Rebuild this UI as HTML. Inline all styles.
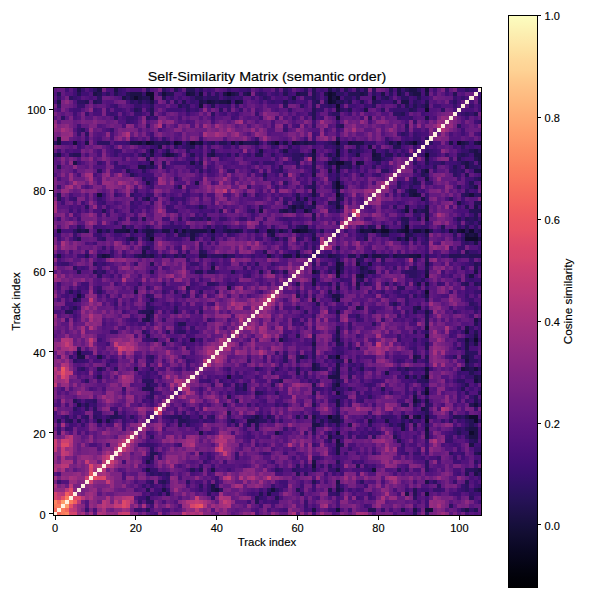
<!DOCTYPE html>
<html><head><meta charset="utf-8"><title>Self-Similarity Matrix</title>
<style>
html,body{margin:0;padding:0;background:#fff;}
body{width:600px;height:600px;position:relative;overflow:hidden;font-family:"Liberation Sans",sans-serif;color:#000;}
.t{position:absolute;white-space:nowrap;line-height:1;-webkit-text-stroke:0.15px #000;}
.tk{position:absolute;background:#000;}
</style></head><body>
<svg style="position:absolute;left:53.00px;top:87.50px" width="428.60" height="428.10" viewBox="0 0 106 106" preserveAspectRatio="none" shape-rendering="crispEdges">
<g transform="translate(0,0.5)" stroke-width="1.02" fill="none">
<path stroke="#100b2d" d="M103 85h1M92 82h1M104 82h1M68 81h1M103 81h2M92 75h1M92 71h1M70 66h1M104 62h1M92 50h1M70 45h1M24 37h1M102 37h3M39 35h1M60 35h1M79 35h1M81 35h2M87 35h1M92 35h1M101 35h1M103 35h1M87 34h1M70 26h1M70 24h1M70 23h1M70 18h2M92 16h1M23 13h1M30 13h1M34 13h1M55 13h1M70 13h1M89 13h1M100 13h1M92 5h1M70 4h1M68 3h1M20 2h1M24 2h1M68 2h1M70 2h1M23 1h2M43 1h1M68 1h1"/>
<path stroke="#160f3b" d="M70 104h1M92 104h2M92 100h1M40 99h1M54 99h1M79 94h1M64 93h1M70 87h1M70 85h1M92 84h1M87 81h1M90 81h1M92 81h1M104 78h1M89 77h1M70 75h1M92 74h1M70 73h1M104 72h1M43 71h1M92 69h1M101 69h1M104 69h1M102 67h1M6 65h1M34 62h1M102 62h1M92 61h1M102 60h1M92 59h1M70 52h1M6 51h1M70 46h1M76 46h1M92 46h1M64 45h1M70 44h1M70 43h1M75 43h1M12 41h1M60 41h1M77 41h1M90 41h1M87 37h1M102 36h1M104 36h1M1 35h1M18 35h1M20 35h1M30 35h1M32 35h1M53 35h1M59 35h1M61 35h2M76 35h1M86 35h1M89 35h2M98 35h1M100 35h1M92 32h1M62 30h1M87 30h1M59 29h1M70 29h1M64 28h1M11 26h1M89 26h1M103 26h1M92 20h1M70 19h1M24 18h1M68 18h1M75 18h1M28 16h1M70 16h1M79 16h1M24 15h1M64 15h1M70 15h1M1 13h1M5 13h1M21 13h1M24 13h1M31 13h1M36 13h1M44 13h1M46 13h1M59 13h1M73 13h1M85 13h1M105 13h1M1 12h1M70 7h1M70 5h1M36 4h1M38 3h1M43 3h1M45 3h1M69 3h1M79 2h1M27 1h1M33 1h1M36 1h1M69 1h1M92 0h1"/>
<path stroke="#1d1147" d="M64 104h1M89 104h1M102 104h1M53 100h1M87 100h1M27 99h1M39 99h1M70 99h1M105 99h1M39 98h1M70 97h1M92 97h1M104 95h1M23 94h1M39 94h1M70 94h1M105 94h1M23 92h1M64 92h1M70 90h1M105 90h1M70 89h1M70 88h1M103 88h1M68 86h1M92 86h1M103 86h2M36 85h1M55 85h1M92 85h1M104 85h1M86 84h1M103 84h2M64 83h2M86 83h1M11 82h1M13 82h1M48 82h2M69 82h2M78 82h1M82 82h1M50 81h1M64 81h1M70 81h1M89 81h1M102 81h1M91 79h1M6 78h1M70 78h1M70 77h1M92 77h1M89 76h1M68 71h3M87 71h1M104 71h1M70 70h1M82 70h1M92 70h1M20 69h1M64 69h1M70 69h1M102 69h1M64 68h1M70 68h1M6 66h2M11 66h1M61 66h1M89 66h1M102 66h1M102 64h1M64 63h1M102 63h1M104 63h1M56 62h1M70 62h1M104 61h1M70 60h1M102 59h1M23 57h1M104 57h1M23 56h1M24 55h1M70 55h1M92 55h1M75 54h1M90 54h1M5 52h1M64 52h1M69 51h2M92 51h1M20 50h1M43 49h1M70 49h1M64 48h1M75 48h1M90 48h1M92 48h1M64 47h1M75 46h1M103 46h1M78 45h1M92 45h1M104 45h1M39 44h1M76 44h1M71 43h1M78 43h1M92 43h1M1 41h1M13 41h1M22 41h1M24 41h1M36 41h2M42 41h1M53 41h1M57 41h2M68 41h1M79 41h2M84 41h1M88 41h2M22 40h1M104 38h1M19 37h1M34 37h1M64 37h1M85 37h1M105 37h1M23 36h1M34 36h1M54 36h1M87 36h1M103 36h1M6 35h1M8 35h1M11 35h1M15 35h3M23 35h2M27 35h2M34 35h4M43 35h1M45 35h1M50 35h1M54 35h1M56 35h1M77 35h2M80 35h1M85 35h1M62 34h1M81 34h1M92 31h1M51 30h1M57 30h1M59 30h1M89 30h1M92 30h1M61 29h1M87 29h1M92 29h1M104 29h1M70 28h1M100 28h1M23 27h1M60 27h1M62 27h1M70 27h1M91 27h1M64 26h1M88 26h1M90 26h1M64 25h1M70 25h1M88 25h2M71 24h1M104 24h1M23 23h1M35 23h1M92 22h1M64 21h1M68 20h1M70 20h1M104 20h2M21 19h2M102 19h1M5 18h1M34 18h1M69 18h1M76 18h1M102 18h1M64 17h1M79 17h2M92 17h1M105 17h1M1 16h1M24 16h1M29 16h1M39 16h1M64 16h1M75 16h1M80 16h1M104 16h2M51 15h1M57 15h1M79 15h1M104 15h1M26 14h1M78 14h1M8 13h1M19 13h2M28 13h1M35 13h1M50 13h1M54 13h1M57 13h1M60 13h1M62 13h1M74 13h3M83 13h1M88 13h1M98 13h1M101 13h1M104 13h1M92 7h1M77 5h1M92 4h1M1 3h1M24 3h1M36 3h1M39 3h1M41 3h2M46 3h1M86 3h2M17 2h1M19 2h1M21 2h1M59 2h1M69 2h1M10 1h1M19 1h3M34 1h1M42 1h1M44 1h1M48 1h1M60 1h1M67 1h1M76 1h1M81 1h1M85 1h1M89 1h2M92 1h1M6 0h1M11 0h1M15 0h1M68 0h1M85 0h1M88 0h2"/>
<path stroke="#251255" d="M23 104h1M78 104h2M86 104h1M104 104h1M50 102h1M23 101h1M50 101h1M55 101h1M28 100h1M51 100h1M89 100h1M23 99h1M60 99h1M68 99h1M89 99h1M104 99h1M70 98h1M27 97h1M64 97h1M102 97h1M60 95h1M102 95h1M34 94h1M36 94h1M64 94h1M104 94h1M75 93h1M70 92h1M24 91h1M24 90h2M104 90h1M71 88h1M85 87h1M104 87h1M84 86h1M100 85h1M64 84h1M102 84h1M31 83h1M48 83h1M50 83h1M70 83h1M73 83h1M89 83h1M92 83h1M103 83h1M1 82h1M4 82h1M6 82h1M31 82h2M44 82h1M50 82h1M64 82h1M66 82h1M68 82h1M88 82h1M103 82h1M14 81h2M31 81h1M53 81h1M60 81h1M62 81h1M69 81h1M86 81h1M99 81h2M15 80h1M43 80h1M92 80h1M92 79h1M8 78h1M64 78h1M89 78h1M92 78h1M103 78h1M5 77h1M90 77h1M104 77h1M43 76h1M104 76h1M50 75h1M64 75h1M105 75h1M22 74h3M47 74h1M69 74h1M81 74h1M101 74h1M23 73h1M47 73h1M64 73h1M69 73h1M102 73h1M56 72h1M70 72h1M92 72h1M105 72h1M11 71h1M89 71h1M91 71h1M105 71h1M60 70h1M103 70h1M11 69h1M60 69h1M65 69h1M76 69h1M87 69h1M103 69h1M102 68h1M73 67h1M89 67h1M68 66h1M90 66h1M92 66h1M101 66h1M102 65h1M92 64h1M70 63h1M92 63h1M25 62h1M29 62h1M23 61h1M60 61h1M70 61h1M104 60h1M70 59h1M31 58h2M92 58h1M104 58h1M22 57h1M92 57h1M92 56h1M3 55h2M22 55h2M30 55h1M89 55h1M5 54h1M60 54h1M89 54h1M65 53h1M84 53h1M24 52h1M60 51h1M4 50h1M68 50h1M33 49h1M75 49h1M60 48h1M102 48h1M104 48h1M76 47h1M6 45h1M10 45h1M24 45h1M35 45h2M44 45h1M51 45h1M54 45h1M57 45h1M65 45h1M76 45h1M79 45h1M71 44h1M77 44h1M89 44h1M92 44h1M104 44h1M24 43h1M104 43h1M70 42h1M75 42h1M92 42h1M8 41h1M11 41h1M21 41h1M23 41h1M27 41h1M30 41h1M32 41h1M69 41h1M73 41h2M76 41h1M81 41h2M85 41h3M92 41h1M98 41h3M103 41h3M36 40h1M52 40h1M60 40h1M102 40h1M23 39h1M70 39h1M6 37h1M23 37h1M39 37h1M55 37h1M77 37h1M89 37h1M24 36h1M31 36h2M64 36h1M81 36h2M88 36h1M92 36h1M7 35h1M13 35h1M22 35h1M33 35h1M42 35h1M44 35h1M46 35h1M63 35h1M66 35h1M83 35h1M91 35h1M93 35h1M102 35h1M105 35h1M17 34h1M61 34h1M78 34h1M96 34h1M102 34h1M87 33h1M105 33h1M22 32h1M38 32h1M64 32h1M86 32h2M90 32h1M100 32h1M102 32h1M104 32h1M64 31h1M104 31h1M12 30h1M56 30h1M63 30h1M91 30h1M103 30h3M36 29h1M58 29h1M60 29h1M64 29h1M102 29h1M61 28h1M68 28h1M104 28h2M1 27h1M71 27h1M1 26h1M60 26h1M102 26h1M31 24h1M64 24h1M69 24h1M64 23h1M69 23h1M89 23h1M103 23h1M70 22h1M89 22h1M105 22h1M19 21h1M52 21h1M91 21h1M102 21h1M18 20h1M64 20h1M91 20h1M1 19h1M24 19h1M64 19h1M73 19h1M99 19h1M36 18h1M64 18h1M72 18h2M92 18h1M101 18h1M105 18h1M23 17h1M69 17h1M100 17h1M104 17h1M5 16h2M22 16h1M27 16h1M34 16h1M38 16h1M50 16h2M61 16h1M68 16h1M82 16h2M101 16h1M28 15h1M39 15h1M73 15h1M103 15h1M34 14h1M70 14h1M75 14h1M84 14h2M22 13h1M25 13h3M33 13h1M39 13h1M41 13h2M47 13h3M61 13h1M63 13h2M69 13h1M87 13h1M102 13h1M70 12h1M71 9h1M64 7h1M24 6h1M64 6h1M86 6h1M104 6h1M20 5h1M24 5h1M64 5h1M73 5h1M88 5h1M31 4h1M39 4h1M87 4h1M89 4h1M8 3h1M10 3h1M21 3h1M32 3h1M37 3h1M40 3h1M57 3h1M65 3h1M70 3h2M73 3h1M76 3h1M79 3h1M84 3h1M92 3h1M22 2h2M27 2h1M35 2h2M64 2h1M75 2h1M82 2h1M90 2h1M1 1h1M6 1h1M11 1h1M15 1h1M18 1h1M28 1h2M45 1h1M47 1h1M57 1h1M61 1h2M64 1h1M73 1h3M77 1h1M88 1h1M99 1h1M30 0h1M33 0h2M64 0h1M70 0h1M72 0h1M75 0h1M77 0h1M83 0h1M87 0h1"/>
<path stroke="#2d1161" d="M89 105h1M92 105h1M101 104h1M98 103h1M23 102h2M89 101h1M103 101h1M26 100h1M38 100h1M61 100h1M70 100h1M41 99h1M53 99h1M55 99h1M71 99h1M102 99h1M36 98h1M95 98h1M102 98h1M24 97h1M26 97h1M33 97h1M76 97h1M94 97h1M24 95h1M26 95h1M28 95h1M62 95h1M105 95h1M55 94h1M59 94h1M85 94h1M92 94h1M102 94h2M60 93h1M68 93h1M92 93h1M92 92h1M104 92h1M36 90h1M98 90h1M24 89h1M68 87h1M103 87h1M24 86h1M79 86h1M102 86h1M64 85h1M68 85h1M50 84h1M100 84h1M33 83h1M45 83h1M66 83h1M78 83h1M83 83h1M85 83h1M3 82h1M33 82h1M51 82h2M54 82h1M71 82h1M86 82h1M98 82h1M102 82h1M105 82h1M3 81h1M8 81h1M10 81h1M16 81h1M19 81h1M29 81h2M33 81h1M36 81h1M39 81h1M49 81h1M51 81h1M101 81h1M70 80h1M5 79h1M8 79h1M10 79h1M42 78h1M86 78h2M105 78h1M10 77h1M45 77h1M24 76h1M78 76h1M24 75h1M51 75h1M55 75h1M89 75h1M91 75h1M102 75h1M45 74h1M73 74h1M45 73h1M54 73h1M8 72h1M22 72h3M90 72h2M100 72h2M73 71h1M69 70h1M7 69h1M15 69h1M24 69h1M50 69h1M55 69h1M73 69h1M85 69h1M105 69h1M65 68h1M5 67h1M57 67h1M60 67h1M70 67h2M92 67h1M103 67h2M24 66h1M57 66h1M60 66h1M62 66h1M64 66h1M69 66h1M99 66h1M103 66h1M64 65h1M103 65h2M6 64h1M64 64h1M75 64h1M100 64h1M27 63h1M71 63h1M64 62h1M89 62h1M103 62h1M64 61h1M22 60h1M28 60h1M31 60h2M89 60h1M92 60h1M79 58h1M24 56h1M75 56h1M21 55h1M36 55h1M62 55h1M23 54h2M30 54h1M76 54h1M104 54h1M23 53h1M103 53h1M6 52h1M69 52h1M92 52h1M23 51h1M32 51h1M89 51h1M6 50h1M11 50h1M30 50h1M36 50h1M85 49h2M38 48h2M68 48h1M70 48h1M77 48h1M82 48h1M101 48h1M105 48h1M75 47h1M91 47h1M11 46h1M88 46h2M12 45h1M38 45h2M68 45h1M71 45h1M77 45h1M87 45h3M5 44h1M101 44h1M10 43h1M39 43h1M50 43h1M64 43h1M105 43h1M76 42h1M81 42h1M89 42h1M20 41h1M39 41h3M43 41h2M62 41h1M66 41h1M70 41h1M101 41h2M37 40h1M22 39h1M64 39h1M102 38h1M12 37h1M18 37h1M20 37h1M57 37h1M60 37h1M86 37h1M92 37h1M101 37h1M35 36h1M39 36h1M53 36h1M77 36h1M99 36h1M5 35h1M25 35h1M38 35h1M57 35h1M64 35h1M75 35h1M84 35h1M88 35h1M96 35h1M99 35h1M104 35h1M6 34h1M23 34h1M38 34h1M42 34h1M60 34h1M76 34h1M79 34h1M86 34h1M100 34h1M104 34h1M86 33h1M103 33h1M31 32h1M34 32h1M36 32h1M103 32h1M41 30h1M49 30h1M58 30h1M70 30h1M86 30h1M90 30h1M8 29h1M51 29h1M63 29h1M71 29h1M84 29h1M57 28h1M60 28h1M69 28h1M22 27h1M29 27h1M98 27h1M19 26h1M47 26h1M71 26h1M86 26h1M101 26h1M104 26h2M87 25h1M102 25h1M63 24h1M85 24h1M88 24h1M100 24h1M103 24h1M57 23h1M85 23h1M90 23h1M22 22h1M104 22h1M70 21h1M76 21h1M92 21h1M99 21h1M11 20h1M22 20h1M36 20h1M56 20h1M81 20h2M89 20h1M99 20h1M101 20h1M23 19h1M27 19h1M56 19h1M68 19h1M71 19h2M75 19h1M79 19h1M94 19h1M103 19h2M27 18h1M60 18h1M80 18h1M89 18h1M96 18h1M103 18h1M59 17h2M70 17h1M81 17h1M0 16h1M4 16h1M30 16h1M43 16h1M45 16h1M54 16h1M59 16h2M63 16h1M85 16h1M87 16h1M100 16h1M102 16h1M33 15h1M75 15h1M82 15h1M92 15h1M105 15h1M30 14h1M33 14h1M58 14h1M101 14h1M0 13h1M11 13h3M38 13h1M45 13h1M53 13h1M68 13h1M84 13h1M90 13h1M93 13h1M92 12h1M8 11h1M86 11h1M7 10h1M70 9h1M87 9h1M100 9h1M2 7h1M15 7h1M23 7h1M78 7h1M39 6h1M69 6h2M84 6h2M102 6h1M21 5h1M33 5h1M41 5h1M71 5h1M81 5h1M89 5h1M96 5h1M1 4h1M24 4h1M33 4h1M57 4h1M61 4h1M64 4h1M68 4h1M79 4h1M85 4h1M91 4h1M6 3h2M11 3h1M19 3h1M23 3h1M30 3h1M64 3h1M67 3h1M80 3h1M89 3h1M99 3h1M105 3h1M4 2h1M11 2h1M18 2h1M38 2h3M43 2h1M52 2h1M72 2h2M81 2h1M86 2h2M13 1h1M38 1h1M40 1h1M51 1h1M70 1h2M79 1h1M83 1h1M86 1h1M10 0h1M23 0h1M27 0h1M36 0h1M57 0h1M62 0h1M79 0h1M90 0h1M102 0h1"/>
<path stroke="#38106c" d="M8 104h1M20 104h2M81 104h1M103 104h1M62 103h1M21 102h1M62 102h1M39 101h1M51 101h1M24 100h1M68 100h2M78 100h1M103 100h1M28 99h1M36 99h1M38 99h1M94 99h2M101 99h1M22 98h1M24 98h1M27 98h1M38 98h1M40 98h1M54 98h1M101 98h1M105 98h1M1 97h1M23 97h1M28 97h1M40 97h1M99 97h1M28 96h1M25 95h1M27 95h1M24 94h2M56 94h1M60 94h1M68 94h2M78 94h1M87 94h1M36 93h1M62 93h1M66 93h1M70 93h1M77 93h1M24 92h1M37 92h1M23 91h1M38 91h1M45 91h1M64 91h2M95 91h1M99 91h1M45 90h1M52 90h1M72 90h1M79 90h1M87 90h1M89 90h2M101 90h1M73 89h1M104 89h2M23 88h2M31 88h1M64 88h1M86 88h1M92 87h1M97 87h2M69 86h3M73 86h1M75 86h1M77 86h1M98 86h1M1 85h1M56 85h1M62 85h1M73 85h1M78 85h1M80 85h1M84 85h1M99 85h1M101 85h2M1 84h1M3 84h1M57 84h1M89 84h1M99 84h1M101 84h1M7 83h1M68 83h1M102 83h1M104 83h1M8 82h1M14 82h1M17 82h1M29 82h1M34 82h2M37 82h1M39 82h1M43 82h1M56 82h1M79 82h1M90 82h1M96 82h1M100 82h1M5 81h1M7 81h1M11 81h1M13 81h1M17 81h1M28 81h1M32 81h1M38 81h1M43 81h1M48 81h1M54 81h1M65 81h1M67 81h1M77 81h1M79 81h1M81 81h3M93 81h1M10 80h2M32 80h1M64 80h1M91 80h1M98 80h1M70 79h1M104 79h1M7 78h1M10 78h1M48 78h1M55 78h1M57 78h1M93 78h1M6 77h1M8 77h2M24 77h1M64 77h1M69 77h1M76 77h1M102 77h1M23 76h1M71 76h2M92 76h1M103 76h1M45 75h1M71 75h1M75 75h1M83 75h1M17 74h1M46 74h1M64 74h2M70 74h2M24 73h2M39 73h1M42 73h1M78 73h1M91 73h1M101 73h1M38 72h1M41 72h1M55 72h1M63 72h1M65 72h1M69 72h1M71 72h1M23 71h1M46 71h1M62 71h1M102 71h2M23 70h1M54 70h1M62 70h1M73 70h1M86 70h1M100 70h1M104 70h1M6 69h1M12 69h1M43 69h1M66 69h2M86 69h1M88 69h2M91 69h1M13 68h1M23 68h1M74 68h1M76 68h1M103 68h1M6 67h2M14 67h1M24 67h1M33 67h1M48 67h1M64 67h1M85 67h1M4 66h1M23 66h1M32 66h1M7 65h2M55 65h1M57 65h1M70 65h2M89 65h1M33 64h1M70 64h1M73 64h1M89 64h1M32 63h1M73 63h1M103 63h1M23 62h2M36 62h1M57 62h1M69 62h1M85 62h1M92 62h1M100 62h2M105 62h1M57 61h1M85 61h1M103 61h1M14 60h2M30 60h1M101 60h1M31 59h1M34 59h1M73 59h1M100 59h1M103 59h1M61 58h1M73 58h1M24 57h1M27 57h1M38 57h1M59 57h1M70 57h1M75 57h1M81 57h1M89 57h1M105 57h1M64 56h1M70 56h1M85 56h1M79 55h1M87 55h1M93 55h1M99 55h1M104 55h1M4 54h1M92 54h1M15 53h1M83 53h1M87 53h1M104 53h1M87 52h1M103 52h1M7 51h1M24 51h1M35 51h1M62 51h1M64 51h1M68 51h1M71 51h1M87 51h1M91 51h1M102 51h1M27 50h1M33 50h1M40 50h1M60 50h1M70 50h1M81 50h1M85 50h1M104 50h2M11 49h1M20 49h1M23 49h1M90 49h1M92 49h1M21 48h1M27 48h1M40 48h1M43 48h2M73 48h1M78 48h1M84 48h1M89 48h1M95 48h1M71 47h1M89 47h1M100 47h1M103 47h1M48 46h1M77 46h1M90 46h1M102 46h1M11 45h1M55 45h1M86 45h1M90 45h1M47 44h1M64 44h1M68 44h2M84 44h1M88 44h1M2 43h2M12 43h1M20 43h1M34 43h2M54 43h1M66 43h2M76 43h1M81 43h1M103 43h1M33 42h1M79 42h1M99 42h1M103 42h1M14 41h1M17 41h1M25 41h1M28 41h1M31 41h1M38 41h1M49 41h1M54 41h1M61 41h1M65 41h1M67 41h1M78 41h1M96 41h1M14 40h1M24 40h1M31 40h1M33 40h1M64 40h1M79 40h1M100 40h1M103 40h2M12 39h1M36 39h1M62 39h1M100 39h2M24 38h1M36 38h1M62 38h1M64 38h1M87 38h1M91 38h2M101 38h1M103 38h1M5 37h1M11 37h1M22 37h1M54 37h1M61 37h1M75 37h1M84 37h1M99 37h1M5 36h1M11 36h1M19 36h1M28 36h1M33 36h1M43 36h1M61 36h1M76 36h1M89 36h1M91 36h1M101 36h1M105 36h1M12 35h1M19 35h1M26 35h1M31 35h1M40 35h2M48 35h2M55 35h1M72 35h1M19 34h1M29 34h3M33 34h1M40 34h1M54 34h1M58 34h1M82 34h1M91 34h2M15 33h1M29 33h1M70 33h1M92 33h1M100 33h1M102 33h1M16 32h1M19 32h2M35 32h1M41 32h2M46 32h2M57 32h1M37 31h1M89 31h2M19 30h1M30 30h1M48 30h1M68 30h1M28 29h1M37 29h1M62 29h1M69 29h1M90 29h1M12 28h1M19 28h1M24 28h1M59 28h1M92 28h1M101 28h1M5 27h1M11 27h1M20 27h1M32 27h1M57 27h1M64 27h1M92 27h1M15 26h1M23 26h2M50 26h1M63 26h1M65 26h1M92 26h1M20 25h1M84 25h1M1 24h1M24 24h1M48 24h1M55 24h1M62 24h1M24 23h1M71 23h1M88 23h1M92 23h2M24 22h1M30 22h1M52 22h1M20 21h1M57 21h1M61 21h1M68 21h1M80 21h1M100 21h1M38 20h1M43 20h2M49 20h1M55 20h1M98 20h1M100 20h1M17 19h1M35 19h2M60 19h1M90 19h1M92 19h1M100 19h1M105 19h1M11 18h1M15 18h1M50 18h1M52 18h3M67 18h1M94 18h2M100 18h1M36 17h1M61 17h1M82 17h1M98 17h1M15 16h1M21 16h1M36 16h1M40 16h2M48 16h1M57 16h2M69 16h1M74 16h1M91 16h1M93 16h2M97 16h1M15 15h1M23 15h1M56 15h1M59 15h2M74 15h1M76 15h1M86 15h1M93 15h1M101 15h2M25 14h1M32 14h1M36 14h1M54 14h1M67 14h1M69 14h1M71 14h1M89 14h1M18 13h1M29 13h1M43 13h1M51 13h1M56 13h1M67 13h1M71 13h2M77 13h3M82 13h1M86 13h1M24 12h1M27 12h1M50 12h1M82 12h1M89 12h2M6 11h1M87 11h1M89 11h1M6 10h1M14 10h1M57 10h1M87 10h1M23 9h1M64 9h1M18 8h1M89 8h1M105 8h1M18 7h2M25 7h1M85 7h1M88 7h1M8 6h1M14 6h1M20 6h2M50 6h1M63 6h1M68 6h1M101 6h1M103 6h1M23 5h1M35 5h1M43 5h1M46 5h1M58 5h1M65 5h2M72 5h1M84 5h4M6 4h2M15 4h1M20 4h2M32 4h1M43 4h1M45 4h1M66 4h2M69 4h1M77 4h1M90 4h1M99 4h1M103 4h1M20 3h1M22 3h1M28 3h1M34 3h1M54 3h1M59 3h1M72 3h1M90 3h1M1 2h1M5 2h1M29 2h1M34 2h1M37 2h1M42 2h1M44 2h1M46 2h1M53 2h1M58 2h1M62 2h2M65 2h1M67 2h1M99 2h1M101 2h1M105 2h1M16 1h1M22 1h1M26 1h1M35 1h1M50 1h1M52 1h1M55 1h1M65 1h1M7 0h1M16 0h1M43 0h1M48 0h1M55 0h1M69 0h1M86 0h1M97 0h1M103 0h1"/>
<path stroke="#400f74" d="M57 104h1M62 104h1M68 104h2M73 104h1M90 104h1M24 103h1M51 103h1M77 103h1M92 103h1M48 102h1M52 102h1M54 102h2M92 102h1M105 102h1M21 101h2M52 101h1M75 101h1M78 101h1M25 100h1M49 100h1M54 100h2M99 100h2M104 100h2M25 99h2M51 99h1M56 99h1M64 99h1M73 99h1M75 99h1M87 99h1M91 99h2M96 99h1M100 99h1M103 99h1M57 98h1M61 98h1M64 98h1M71 98h1M77 98h1M104 98h1M38 97h1M56 97h2M65 97h1M93 97h1M104 97h1M27 96h1M40 96h1M105 96h1M23 95h1M67 95h1M69 95h1M71 95h1M100 95h1M22 94h1M35 94h1M43 94h1M61 94h2M77 94h1M39 93h1M79 93h1M104 93h1M17 92h1M42 92h1M54 92h1M74 92h1M76 92h1M99 92h2M26 91h1M59 91h1M91 91h1M101 91h1M26 90h1M38 90h1M53 90h1M57 90h1M69 90h1M75 90h1M86 90h1M92 90h1M99 90h2M69 89h1M86 89h1M90 89h1M92 89h1M100 89h1M13 88h1M21 88h2M25 88h1M50 88h1M92 88h1M99 88h1M104 88h2M67 87h1M48 86h1M76 86h1M85 86h1M89 86h1M97 86h1M100 86h1M23 85h1M38 85h1M48 85h1M76 85h1M79 85h1M98 85h1M4 84h1M17 84h1M35 84h1M47 84h1M70 84h1M77 84h1M79 84h1M87 84h1M4 83h1M11 83h1M17 83h1M28 83h1M34 83h1M43 83h1M47 83h1M84 83h1M10 82h1M20 82h1M38 82h1M45 82h1M67 82h1M76 82h1M83 82h2M87 82h1M89 82h1M101 82h1M2 81h1M27 81h1M47 81h1M66 81h1M84 81h1M91 81h1M94 81h1M98 81h1M5 80h2M17 80h1M30 80h1M35 80h1M51 80h1M65 80h1M78 80h1M86 80h1M90 80h1M102 80h1M6 79h1M14 79h2M34 79h1M9 78h1M24 78h1M32 78h1M50 78h1M71 78h1M73 78h1M79 78h1M90 78h1M22 77h1M52 77h1M68 77h1M71 77h1M73 77h1M75 77h1M100 77h1M105 77h1M50 76h1M64 76h1M69 76h2M75 76h2M100 76h1M25 75h1M43 75h1M46 75h2M52 75h1M68 75h1M77 75h2M81 75h1M87 75h1M100 75h1M36 74h1M66 74h1M68 74h1M78 74h1M87 74h1M100 74h1M103 74h1M105 74h1M27 73h1M43 73h1M77 73h1M79 73h1M87 73h1M92 73h1M104 73h1M36 72h2M44 72h1M54 72h1M76 72h1M79 72h2M88 72h1M99 72h1M22 71h1M26 71h1M45 71h1M50 71h1M57 71h1M85 71h1M88 71h1M100 71h1M11 70h1M21 70h1M25 70h1M45 70h1M74 70h1M76 70h1M87 70h1M101 70h2M105 70h1M31 69h1M33 69h1M51 69h1M58 69h1M69 69h1M75 69h1M79 69h1M90 69h1M93 69h1M33 68h1M56 68h1M73 68h1M92 68h1M8 67h1M15 67h1M20 67h1M23 67h1M67 67h1M69 67h1M86 67h1M91 67h1M105 67h1M12 66h1M52 66h1M75 66h1M98 66h1M9 65h1M60 65h1M92 65h1M69 64h1M71 64h1M88 64h1M101 64h1M13 63h1M89 63h1M91 63h1M99 63h1M101 63h1M11 62h1M22 62h1M30 62h1M32 62h1M91 62h1M33 61h1M69 61h1M75 61h1M98 61h1M102 61h1M23 60h1M34 60h2M91 60h1M99 60h1M103 60h1M30 59h1M64 59h1M105 59h1M21 58h2M24 58h1M30 58h1M59 58h1M105 58h1M3 57h1M19 57h2M60 57h1M62 57h1M76 57h1M5 56h1M61 56h1M73 56h2M87 56h1M103 56h1M17 55h1M27 55h1M29 55h1M34 55h1M68 55h1M90 55h2M2 54h1M6 54h1M25 54h1M36 54h1M55 54h1M64 54h1M68 54h1M70 54h3M98 54h1M102 54h2M105 54h1M3 53h2M28 53h1M30 53h1M39 53h1M73 53h1M85 53h1M15 52h1M102 52h1M3 51h1M5 51h1M13 51h1M33 51h1M82 51h1M85 51h2M104 51h1M3 50h1M5 50h1M51 50h1M78 50h1M84 50h1M88 50h1M91 50h1M98 50h1M102 50h1M6 49h1M8 49h1M37 49h1M64 49h1M73 49h1M102 49h1M1 48h1M7 48h2M15 48h1M34 48h1M66 48h2M87 48h1M96 48h1M36 47h1M65 47h1M72 47h2M78 47h1M90 47h1M102 47h1M104 47h2M14 46h1M47 46h1M64 46h2M79 46h1M87 46h1M98 46h1M40 45h1M48 45h1M73 45h1M75 45h1M91 45h1M96 45h1M7 44h1M11 44h1M49 44h1M75 44h1M78 44h1M1 43h1M11 43h1M48 43h1M77 43h1M86 43h1M89 43h1M93 43h1M102 43h1M64 42h1M69 42h1M6 41h2M29 41h1M46 41h1M51 41h1M56 41h1M59 41h1M63 41h1M71 41h1M83 41h1M93 41h2M97 41h1M8 40h1M25 40h1M58 40h2M67 40h2M92 40h1M24 39h1M31 39h1M57 39h1M92 39h1M98 39h1M105 39h1M10 38h1M18 38h1M23 38h1M38 38h1M57 38h1M65 38h1M86 38h1M89 38h1M1 37h1M28 37h1M30 37h2M50 37h2M65 37h1M76 37h1M83 37h1M91 37h1M1 36h1M10 36h1M15 36h2M29 36h1M36 36h1M38 36h1M41 36h1M44 36h1M63 36h1M75 36h1M80 36h1M83 36h2M90 36h1M21 35h1M29 35h1M51 35h1M95 35h1M97 35h1M7 34h1M10 34h1M27 34h2M41 34h1M51 34h1M64 34h1M89 34h2M101 34h1M51 33h1M58 33h1M84 33h1M104 33h1M1 32h1M6 32h1M27 32h2M37 32h1M49 32h1M52 32h1M56 32h1M58 32h1M60 32h1M85 32h1M89 32h1M99 32h1M101 32h1M105 32h1M13 31h1M35 31h1M49 31h1M101 31h1M103 31h1M4 30h1M6 30h1M15 30h1M28 30h2M36 30h1M39 30h1M44 30h1M60 30h2M69 30h1M85 30h1M13 29h1M19 29h2M23 29h1M29 29h1M33 29h1M35 29h1M48 29h1M68 29h1M91 29h1M100 29h1M105 29h1M2 28h1M7 28h1M11 28h1M21 28h1M30 28h1M32 28h1M62 28h1M85 28h1M4 27h1M25 27h1M30 27h2M55 27h1M58 27h1M61 27h1M101 27h1M12 26h1M20 26h2M27 26h1M32 26h2M36 26h1M59 26h1M84 26h1M87 26h1M33 25h1M69 25h1M91 25h1M104 25h1M30 24h1M89 24h2M102 24h1M54 23h1M86 23h1M102 23h1M23 22h1M64 22h1M68 22h2M88 22h1M100 22h1M102 22h2M22 21h3M55 21h1M69 21h1M72 21h1M79 21h1M90 21h1M19 20h1M34 20h1M52 20h1M54 20h1M73 20h1M75 20h1M77 20h1M94 20h1M15 19h2M25 19h1M38 19h1M54 19h1M62 19h1M67 19h1M82 19h1M98 19h1M6 18h1M21 18h1M23 18h1M30 18h3M35 18h1M49 18h1M57 18h1M59 18h1M79 18h1M93 18h1M98 18h2M33 17h2M41 17h1M55 17h1M83 17h1M101 17h1M19 16h1M23 16h1M42 16h1M62 16h1M67 16h1M71 16h1M73 16h1M81 16h1M103 16h1M1 15h1M16 15h1M25 15h1M27 15h1M36 15h1M50 15h1M58 15h1M69 15h1M71 15h1M81 15h1M84 15h1M94 15h1M6 14h1M14 14h1M24 14h1M38 14h1M42 14h2M45 14h1M50 14h1M55 14h1M60 14h1M68 14h1M76 14h1M80 14h1M92 14h1M99 14h1M103 14h1M2 13h2M6 13h1M15 13h3M32 13h1M37 13h1M40 13h1M65 13h2M91 13h1M103 13h1M8 12h1M36 12h1M62 12h1M64 12h1M87 12h1M24 11h1M64 11h1M85 11h1M90 11h1M101 11h1M105 11h1M70 10h1M101 10h1M6 9h1M57 9h1M60 9h1M19 8h1M64 8h1M70 8h1M104 8h1M20 7h1M24 7h1M39 7h1M44 7h1M51 7h1M55 7h1M59 7h1M66 7h1M86 7h2M102 7h1M5 6h1M13 6h1M15 6h1M17 6h1M33 6h1M42 6h1M45 6h1M73 6h1M87 6h1M91 6h1M5 5h2M10 5h1M13 5h1M15 5h2M19 5h1M28 5h4M34 5h1M76 5h1M83 5h1M105 5h1M14 4h1M23 4h1M35 4h1M41 4h2M71 4h1M73 4h2M78 4h1M88 4h1M94 4h2M105 4h1M25 3h1M35 3h1M44 3h1M51 3h1M53 3h1M55 3h2M58 3h1M62 3h1M81 3h3M98 3h1M6 2h1M31 2h1M45 2h1M49 2h1M51 2h1M74 2h1M83 2h1M89 2h1M91 2h2M5 1h1M7 1h2M12 1h1M17 1h1M32 1h1M54 1h1M58 1h1M72 1h1M80 1h1M97 1h1M105 1h1M3 0h1M5 0h1M9 0h1M17 0h1M28 0h1M31 0h1M35 0h1M38 0h1M46 0h2M51 0h1M58 0h1M66 0h1M73 0h1M76 0h1M94 0h1M100 0h2M104 0h1"/>
<path stroke="#491078" d="M25 105h1M50 105h1M64 105h1M102 105h1M10 104h1M22 104h1M27 104h2M50 104h1M53 104h1M56 104h1M63 104h1M83 104h1M100 104h1M31 103h1M54 103h1M64 103h1M70 103h1M78 103h1M89 103h1M27 102h1M53 102h1M70 102h1M90 102h1M56 101h1M65 101h1M70 101h1M76 101h1M79 101h1M92 101h1M100 101h1M22 100h1M40 100h1M48 100h1M50 100h1M52 100h1M74 100h1M85 100h1M90 100h1M98 100h1M20 99h1M35 99h1M61 99h1M76 99h1M84 99h1M90 99h1M25 98h1M33 98h1M56 98h1M20 97h1M35 97h2M61 97h1M67 97h1M75 97h1M81 97h1M89 97h1M17 96h1M31 96h1M103 96h1M1 95h1M17 95h1M34 95h1M38 95h1M55 95h2M75 95h1M84 95h1M99 95h1M33 94h1M38 94h1M54 94h1M63 94h1M65 94h1M71 94h1M74 94h3M89 94h2M93 94h1M99 94h2M23 93h2M31 93h1M47 93h1M55 93h1M71 93h1M78 93h1M87 93h1M22 92h1M38 92h1M62 92h1M75 92h1M95 92h1M105 92h1M22 91h1M39 91h1M66 91h1M70 91h1M89 91h2M93 91h2M104 91h2M51 90h1M60 90h1M68 90h1M77 90h1M85 90h1M54 89h1M59 89h1M79 89h1M85 89h1M9 88h2M30 88h1M46 88h1M52 88h1M65 88h1M68 88h1M73 88h2M88 88h2M96 88h1M98 88h1M100 88h1M23 87h1M48 87h1M71 87h1M86 87h1M89 87h1M102 87h1M47 86h1M49 86h1M53 86h1M64 86h1M93 86h1M105 86h1M6 85h1M8 85h1M24 85h1M39 85h1M44 85h1M67 85h1M69 85h1M74 85h1M77 85h1M85 85h1M90 85h1M97 85h1M105 85h1M27 84h1M59 84h1M75 84h1M84 84h1M105 84h1M1 83h1M5 83h1M13 83h2M35 83h1M69 83h1M71 83h1M87 83h1M91 83h1M99 83h1M101 83h1M12 82h1M18 82h1M24 82h1M28 82h1M36 82h1M53 82h1M65 82h1M75 82h1M80 82h2M85 82h1M12 81h1M20 81h1M23 81h1M34 81h2M52 81h1M71 81h1M0 80h1M7 80h1M53 80h1M61 80h1M83 80h1M89 80h1M93 80h1M30 79h1M36 79h1M51 79h1M64 79h1M89 79h1M95 79h1M1 78h1M3 78h1M21 78h1M36 78h1M38 78h1M52 78h1M56 78h1M61 78h1M96 78h1M99 78h1M1 77h1M23 77h1M51 77h1M55 77h2M85 77h2M91 77h1M103 77h1M56 76h1M68 76h1M77 76h1M79 76h1M87 76h1M17 75h1M26 75h1M36 75h1M41 75h1M66 75h1M2 74h1M9 74h1M12 74h1M50 74h1M52 74h1M72 74h1M74 74h1M89 74h1M91 74h1M98 74h1M46 73h1M71 73h1M100 73h1M7 72h1M11 72h1M42 72h1M48 72h1M51 72h2M61 72h1M64 72h1M73 72h1M81 72h1M86 72h2M89 72h1M97 72h1M102 72h2M10 71h1M24 71h1M38 71h1M40 71h1M42 71h1M44 71h1M56 71h1M58 71h1M60 71h1M64 71h1M76 71h1M86 71h1M90 71h1M6 70h1M8 70h1M22 70h1M24 70h1M43 70h1M47 70h1M57 70h1M68 70h1M89 70h2M8 69h1M23 69h1M26 69h2M30 69h1M42 69h1M56 69h1M61 69h1M63 69h1M78 69h1M83 69h2M47 68h1M68 68h1M71 68h1M75 68h1M105 68h1M10 67h2M13 67h1M27 67h1M34 67h1M52 67h1M54 67h1M56 67h1M75 67h1M79 67h1M84 67h1M90 67h1M101 67h1M14 66h1M20 66h1M48 66h1M77 66h3M82 66h1M84 66h4M97 66h1M105 66h1M5 65h1M34 65h1M62 65h1M67 65h1M69 65h1M30 64h1M99 64h1M103 64h2M33 63h2M36 63h1M46 63h1M62 63h2M68 63h1M76 63h1M86 63h1M88 63h1M35 62h1M48 62h1M54 62h1M58 62h1M62 62h1M71 62h1M79 62h1M20 61h1M34 61h1M87 61h1M99 61h1M105 61h1M57 60h2M60 60h1M64 60h1M98 60h1M105 60h1M17 59h1M32 59h1M42 59h1M62 59h1M71 59h1M90 59h1M12 58h1M19 58h1M35 58h1M37 58h1M60 58h1M88 58h2M5 57h1M18 57h1M33 57h1M39 57h1M43 57h1M54 57h1M64 57h1M84 57h1M86 57h1M19 56h1M0 55h2M5 55h1M31 55h1M64 55h2M69 55h1M78 55h1M84 55h2M100 55h1M15 54h1M26 54h1M28 54h1M33 54h1M57 54h2M65 54h1M78 54h3M84 54h1M5 53h1M17 53h1M24 53h1M27 53h1M31 53h1M33 53h1M38 53h1M64 53h1M67 53h1M70 53h2M76 53h1M90 53h1M1 52h1M3 52h1M19 52h1M23 52h1M25 52h1M57 52h1M61 52h1M2 51h1M11 51h1M16 51h1M38 51h1M43 51h1M48 51h1M67 51h1M79 51h1M90 51h1M96 51h2M10 50h1M12 50h1M28 50h1M62 50h1M65 50h1M80 50h1M89 50h1M100 50h1M103 50h1M1 49h1M4 49h1M7 49h1M10 49h1M27 49h3M34 49h1M36 49h1M38 49h1M68 49h1M79 49h1M103 49h2M35 48h1M45 48h1M51 48h1M53 48h1M59 48h1M81 48h1M34 47h1M43 47h1M45 47h1M51 47h1M87 47h1M92 47h1M16 46h1M21 46h1M57 46h1M73 46h1M91 46h1M96 46h1M104 46h1M15 45h1M34 45h1M45 45h1M47 45h1M67 45h1M69 45h1M81 45h1M83 45h1M99 45h1M102 45h1M6 44h1M8 44h1M25 44h1M27 44h1M33 44h1M36 44h1M53 44h1M73 44h1M82 44h1M102 44h1M105 44h1M13 43h1M40 43h1M42 43h2M46 43h1M55 43h1M69 43h1M79 43h1M82 43h3M98 43h1M101 43h1M1 42h1M11 42h1M36 42h1M42 42h1M68 42h1M85 42h2M0 41h1M2 41h1M19 41h1M26 41h1M33 41h2M45 41h1M48 41h1M50 41h1M52 41h1M91 41h1M4 40h1M11 40h1M17 40h1M23 40h1M50 40h2M55 40h1M70 40h1M85 40h1M94 40h1M98 40h2M105 40h1M14 39h1M30 39h1M78 39h1M8 38h1M20 38h1M40 38h1M52 38h1M54 38h1M60 38h1M95 38h1M105 38h1M15 37h1M17 37h1M29 37h1M35 37h1M37 37h1M42 37h1M56 37h1M63 37h1M88 37h1M100 37h1M20 36h1M22 36h1M40 36h1M50 36h1M60 36h1M62 36h1M70 36h1M73 36h1M85 36h1M2 35h3M14 35h1M52 35h1M65 35h1M69 35h1M94 35h1M11 34h2M18 34h1M22 34h1M24 34h1M32 34h1M37 34h1M43 34h1M46 34h1M52 34h1M75 34h1M77 34h1M103 34h1M31 33h1M81 33h1M17 32h1M33 32h1M59 32h1M61 32h1M69 32h1M77 32h2M88 32h1M5 31h1M11 31h1M17 31h1M20 31h1M31 31h1M86 31h1M8 30h1M10 30h2M13 30h1M21 30h1M23 30h1M37 30h2M71 30h1M100 30h3M4 29h1M6 29h1M11 29h1M34 29h1M42 29h1M52 29h1M78 29h1M81 29h2M98 29h1M15 28h1M20 28h1M29 28h1M39 28h1M71 28h1M73 28h1M86 28h1M90 28h1M102 28h1M2 27h1M12 27h1M36 27h1M39 27h1M50 27h2M66 27h1M73 27h1M76 27h1M97 27h1M4 26h1M16 26h1M29 26h1M38 26h2M43 26h1M51 26h1M54 26h1M56 26h1M62 26h1M82 26h1M23 25h1M51 25h1M55 25h1M90 25h1M103 25h1M8 24h1M23 24h1M33 24h1M57 24h1M60 24h1M72 24h1M76 24h1M86 24h1M39 23h1M61 23h2M76 23h1M79 23h1M87 23h1M1 22h1M25 22h1M36 22h1M60 22h1M62 22h1M6 21h1M10 21h1M21 21h1M36 21h1M38 21h2M48 21h1M50 21h2M62 21h1M89 21h1M105 21h1M5 20h1M15 20h2M20 20h1M23 20h1M28 20h1M39 20h1M50 20h1M63 20h1M65 20h1M69 20h1M103 20h1M18 19h1M28 19h1M33 19h2M39 19h1M42 19h1M48 19h1M63 19h1M74 19h1M77 19h1M81 19h1M89 19h1M91 19h1M93 19h1M12 18h1M22 18h1M29 18h1M33 18h1M39 18h1M44 18h1M58 18h1M82 18h1M90 18h1M97 18h1M17 17h1M42 17h1M47 17h1M68 17h1M73 17h1M89 17h1M93 17h1M102 17h2M2 16h1M8 16h1M11 16h1M14 16h1M17 16h2M25 16h2M31 16h1M33 16h1M35 16h1M47 16h1M55 16h1M84 16h1M86 16h1M88 16h1M90 16h1M95 16h1M3 15h1M5 15h2M11 15h1M14 15h1M20 15h1M34 15h2M38 15h1M46 15h1M52 15h1M54 15h1M77 15h1M80 15h1M87 15h1M89 15h1M95 15h1M100 15h1M22 14h1M28 14h1M31 14h1M59 14h1M64 14h1M86 14h1M94 14h1M100 14h1M102 14h1M104 14h2M4 13h1M58 13h1M94 13h2M99 13h1M11 12h1M14 12h1M19 12h1M25 12h1M86 12h1M88 12h1M14 11h1M65 11h1M70 11h1M91 11h2M98 11h1M104 11h1M13 10h1M26 10h1M67 10h1M89 10h2M92 10h1M17 9h1M27 9h1M54 9h1M59 9h1M20 8h1M33 8h1M39 8h1M54 8h1M78 8h1M87 8h1M5 7h1M17 7h1M31 7h1M45 7h1M62 7h1M65 7h1M76 7h1M94 7h1M10 6h2M22 6h1M27 6h1M41 6h1M44 6h1M60 6h1M65 6h1M92 6h1M100 6h1M1 5h1M4 5h1M11 5h1M17 5h1M32 5h1M50 5h1M55 5h1M68 5h1M75 5h1M90 5h2M99 5h1M102 5h2M22 4h1M38 4h1M62 4h1M75 4h1M0 3h1M18 3h1M33 3h1M60 3h2M75 3h1M77 3h1M88 3h1M91 3h1M100 3h1M103 3h1M9 2h1M28 2h1M33 2h1M41 2h1M55 2h2M71 2h1M80 2h1M85 2h1M88 2h1M100 2h1M102 2h1M14 1h1M41 1h1M56 1h1M59 1h1M91 1h1M94 1h1M13 0h2M19 0h3M37 0h1M39 0h1M44 0h2M61 0h1M65 0h1M67 0h1M84 0h1M91 0h1"/>
<path stroke="#52137c" d="M24 105h1M27 105h1M69 105h1M84 105h1M104 105h1M24 104h1M30 104h1M39 104h1M49 104h1M55 104h1M65 104h1M71 104h1M87 104h1M8 103h1M8 102h1M30 102h1M51 102h1M104 102h1M20 101h1M24 101h1M31 101h1M54 101h1M62 101h1M64 101h1M68 101h1M71 101h1M73 101h1M90 101h1M104 101h1M23 100h1M27 100h1M39 100h1M76 100h2M95 100h1M102 100h1M21 99h1M34 99h1M37 99h1M49 99h1M52 99h1M74 99h1M88 99h1M93 99h1M98 99h1M21 98h1M23 98h1M26 98h1M28 98h1M35 98h1M55 98h1M87 98h1M91 98h2M2 97h2M41 97h1M55 97h1M78 97h2M95 97h1M103 97h1M105 97h1M39 96h1M64 96h1M67 96h1M104 96h1M31 95h1M35 95h1M39 95h1M70 95h1M78 95h2M86 95h1M92 95h2M103 95h1M16 94h1M40 94h1M42 94h1M44 94h1M57 94h2M72 94h1M82 94h2M86 94h1M94 94h1M96 94h1M41 93h4M46 93h1M48 93h1M52 93h1M63 93h1M65 93h1M69 93h1M86 93h1M95 93h1M34 92h1M53 92h1M59 92h2M71 92h1M90 92h2M101 92h2M36 91h2M47 91h1M52 91h2M61 91h2M69 91h1M71 91h2M76 91h1M85 91h1M87 91h1M102 91h1M23 90h1M34 90h1M37 90h1M39 90h1M61 90h1M80 90h1M11 89h1M27 89h1M46 89h1M57 89h1M68 89h1M74 89h2M77 89h1M89 89h1M97 89h2M103 89h1M26 88h1M39 88h1M56 88h1M69 88h1M97 88h1M24 87h1M47 87h1M50 87h1M57 87h1M64 87h1M99 87h1M105 87h1M23 86h1M32 86h1M51 86h2M57 86h1M66 86h1M87 86h1M101 86h1M4 85h1M37 85h1M47 85h1M51 85h1M57 85h2M75 85h1M81 85h1M87 85h1M93 85h1M96 85h1M6 84h2M39 84h1M69 84h1M76 84h1M85 84h1M91 84h1M95 84h1M32 83h1M36 83h1M76 83h1M79 83h1M82 83h1M93 83h1M5 82h1M7 82h1M15 82h1M19 82h1M25 82h1M27 82h1M46 82h1M60 82h1M91 82h1M94 82h1M97 82h1M0 81h2M4 81h1M18 81h1M56 81h1M59 81h1M61 81h1M74 81h1M76 81h1M78 81h1M105 81h1M23 80h1M34 80h1M39 80h1M50 80h1M69 80h1M7 79h1M17 79h1M28 79h1M33 79h1M69 79h1M101 79h1M0 78h1M5 78h1M16 78h1M23 78h1M29 78h1M45 78h2M51 78h1M53 78h2M65 78h1M68 78h1M77 78h1M101 78h1M7 77h1M26 77h1M37 77h1M61 77h1M66 77h1M93 77h1M27 76h1M44 76h1M51 76h1M57 76h2M86 76h1M90 76h1M101 76h1M1 75h1M3 75h1M31 75h1M44 75h1M48 75h1M53 75h2M56 75h2M79 75h2M84 75h2M88 75h1M93 75h1M96 75h1M101 75h1M103 75h2M4 74h1M10 74h1M30 74h1M42 74h1M51 74h1M54 74h2M57 74h1M67 74h1M80 74h1M82 74h2M94 74h1M97 74h1M99 74h1M102 74h1M104 74h1M19 73h1M22 73h1M51 73h1M68 73h1M72 73h1M76 73h1M82 73h1M103 73h1M26 72h1M39 72h1M43 72h1M45 72h1M47 72h1M50 72h1M62 72h1M78 72h1M6 71h1M13 71h1M15 71h1M25 71h1M36 71h1M39 71h1M41 71h1M47 71h1M51 71h1M61 71h1M75 71h1M79 71h1M81 71h2M96 71h2M99 71h1M101 71h1M7 70h1M10 70h1M48 70h1M51 70h2M55 70h2M64 70h1M75 70h1M79 70h1M81 70h1M83 70h1M91 70h1M14 69h1M22 69h1M34 69h1M48 69h2M52 69h1M54 69h1M59 69h1M62 69h1M74 69h1M77 69h1M98 69h1M100 69h1M6 68h1M14 68h2M20 68h1M28 68h1M60 68h1M85 68h1M43 67h1M62 67h1M68 67h1M88 67h1M100 67h1M1 66h1M5 66h1M9 66h2M15 66h1M17 66h1M21 66h1M25 66h1M33 66h2M54 66h1M56 66h1M63 66h1M66 66h1M71 66h1M73 66h1M76 66h1M104 66h1M11 65h1M63 65h1M68 65h1M72 65h1M85 65h1M90 65h1M101 65h1M8 64h1M12 64h1M34 64h1M60 64h1M72 64h1M74 64h1M11 63h2M31 63h1M57 63h2M60 63h2M79 63h1M90 63h1M93 63h1M105 63h1M12 62h1M33 62h1M38 62h1M50 62h1M59 62h2M63 62h1M73 62h1M78 62h1M86 62h3M90 62h1M11 61h2M29 61h2M49 61h1M76 61h1M82 61h2M88 61h2M27 60h1M33 60h1M65 60h1M69 60h1M73 60h1M83 60h1M86 60h2M100 60h1M12 59h1M16 59h1M23 59h1M27 59h1M54 59h1M57 59h1M60 59h1M77 59h2M86 59h1M104 59h1M14 58h1M18 58h1M20 58h1M33 58h2M56 58h1M64 58h1M70 58h2M101 58h2M12 57h1M30 57h1M35 57h2M57 57h1M68 57h2M78 57h1M85 57h1M88 57h1M90 57h1M94 57h1M96 57h1M98 57h1M100 57h1M1 56h1M6 56h1M36 56h1M44 56h1M60 56h1M62 56h2M76 56h1M78 56h1M88 56h2M93 56h1M18 55h1M25 55h1M33 55h1M43 55h1M55 55h1M58 55h1M61 55h1M71 55h1M74 55h1M88 55h1M97 55h1M102 55h1M105 55h1M3 54h1M19 54h2M27 54h1M29 54h1M31 54h2M34 54h2M59 54h1M61 54h1M69 54h1M81 54h1M86 54h3M100 54h2M6 53h1M12 53h1M14 53h1M19 53h1M35 53h2M79 53h1M88 53h1M105 53h1M13 52h2M27 52h1M30 52h1M66 52h1M68 52h1M76 52h1M80 52h1M83 52h2M88 52h3M94 52h2M101 52h1M104 52h2M4 51h1M27 51h1M30 51h2M36 51h1M39 51h1M46 51h1M61 51h1M75 51h1M77 51h2M81 51h1M84 51h1M95 51h1M100 51h2M1 50h1M7 50h2M31 50h1M35 50h1M50 50h1M57 50h2M64 50h1M73 50h1M83 50h1M86 50h2M101 50h1M17 49h1M24 49h1M30 49h1M35 49h1M39 49h1M47 49h1M60 49h1M62 49h1M66 49h1M89 49h1M11 48h1M16 48h1M18 48h3M29 48h3M42 48h1M46 48h1M48 48h1M55 48h1M62 48h2M65 48h1M72 48h1M76 48h1M79 48h1M85 48h1M93 48h1M98 48h1M103 48h1M11 47h1M20 47h1M29 47h1M42 47h1M50 47h1M55 47h1M70 47h1M88 47h1M99 47h1M13 46h1M24 46h1M36 46h1M43 46h1M51 46h1M71 46h1M78 46h1M80 46h1M97 46h1M13 45h1M23 45h1M37 45h1M41 45h3M46 45h1M49 45h1M56 45h1M74 45h1M98 45h1M103 45h1M105 45h1M14 44h2M24 44h1M28 44h1M34 44h1M42 44h1M50 44h2M54 44h1M66 44h1M72 44h1M79 44h1M86 44h1M99 44h1M4 43h1M14 43h1M33 43h1M36 43h1M38 43h1M49 43h1M56 43h2M73 43h1M80 43h1M85 43h1M96 43h1M100 43h1M12 42h1M39 42h2M43 42h1M49 42h1M57 42h1M67 42h1M71 42h1M78 42h1M84 42h1M90 42h1M4 41h1M9 41h1M18 41h1M35 41h1M47 41h1M55 41h1M72 41h1M75 41h1M95 41h1M1 40h1M12 40h1M27 40h1M45 40h1M57 40h1M77 40h2M81 40h1M83 40h1M87 40h1M89 40h1M91 40h1M95 40h1M19 39h1M28 39h1M39 39h1M53 39h1M56 39h1M61 39h1M73 39h2M77 39h1M82 39h1M87 39h1M90 39h1M103 39h2M9 38h1M31 38h1M63 38h1M78 38h1M81 38h1M94 38h1M4 37h1M16 37h1M27 37h1M32 37h1M38 37h1M40 37h1M48 37h1M53 37h1M70 37h1M79 37h1M81 37h1M90 37h1M96 37h1M0 36h1M12 36h1M14 36h1M17 36h1M21 36h1M25 36h2M45 36h1M48 36h1M51 36h1M10 35h1M47 35h1M58 35h1M68 35h1M73 35h1M1 34h1M4 34h1M13 34h2M39 34h1M47 34h1M50 34h1M59 34h1M63 34h1M84 34h2M95 34h1M105 34h1M11 33h1M14 33h1M32 33h1M40 33h2M57 33h1M61 33h1M64 33h1M79 33h1M93 33h1M99 33h1M4 32h1M39 32h1M43 32h1M45 32h1M55 32h1M62 32h1M66 32h1M70 32h1M83 32h2M6 31h1M16 31h1M24 31h1M36 31h1M41 31h1M50 31h1M60 31h1M66 31h1M82 31h1M85 31h1M93 31h1M100 31h1M16 30h1M20 30h1M34 30h2M54 30h1M64 30h1M78 30h2M84 30h1M99 30h1M5 29h1M14 29h1M21 29h2M24 29h1M32 29h1M39 29h1M44 29h1M49 29h1M53 29h1M57 29h1M77 29h1M88 29h2M101 29h1M5 28h1M16 28h1M27 28h1M36 28h1M46 28h1M54 28h1M65 28h2M76 28h1M82 28h3M91 28h1M8 27h1M10 27h1M24 27h1M33 27h1M43 27h1M46 27h1M48 27h2M54 27h1M59 27h1M63 27h1M65 27h1M67 27h1M75 27h1M86 27h2M90 27h1M99 27h1M8 26h1M10 26h1M22 26h1M30 26h1M34 26h2M42 26h1M52 26h1M57 26h1M61 26h1M68 26h1M72 26h1M75 26h1M15 25h1M30 25h2M53 25h1M59 25h1M62 25h1M100 25h1M20 24h1M34 24h2M51 24h1M54 24h1M65 24h1M67 24h2M87 24h1M92 24h1M94 24h1M99 24h1M101 24h1M11 23h1M22 23h1M31 23h2M34 23h1M44 23h1M66 23h1M74 23h1M77 23h1M99 23h1M104 23h1M11 22h1M31 22h1M35 22h1M44 22h2M53 22h1M55 22h1M65 22h1M73 22h1M77 22h1M85 22h2M90 22h1M93 22h1M0 21h1M30 21h1M53 21h2M63 21h1M71 21h1M73 21h1M75 21h1M77 21h1M104 21h1M14 20h1M21 20h1M30 20h1M37 20h1M40 20h1M48 20h1M57 20h1M62 20h1M71 20h1M74 20h1M83 20h1M90 20h1M10 19h3M29 19h1M43 19h1M45 19h2M51 19h1M55 19h1M61 19h1M78 19h1M83 19h1M101 19h1M1 18h1M7 18h1M14 18h1M19 18h2M43 18h1M45 18h1M51 18h1M55 18h1M65 18h2M78 18h1M81 18h1M91 18h1M6 17h1M30 17h1M38 17h1M43 17h2M48 17h6M58 17h1M76 17h1M16 16h1M44 16h1M49 16h1M53 16h1M56 16h1M65 16h1M76 16h1M98 16h1M4 15h1M13 15h1M29 15h1M40 15h1M42 15h2M48 15h1M53 15h1M63 15h1M66 15h1M68 15h1M78 15h1M83 15h1M85 15h1M91 15h1M7 14h1M13 14h1M21 14h1M23 14h1M35 14h1M65 14h1M77 14h1M87 14h1M90 14h1M93 14h1M7 13h1M10 13h1M81 13h1M97 13h1M6 12h1M10 12h1M20 12h1M22 12h1M28 12h1M30 12h1M42 12h1M49 12h1M57 12h1M72 12h1M74 12h1M83 12h1M91 12h1M98 12h3M103 12h1M11 11h1M23 11h1M31 11h1M48 11h1M53 11h1M67 11h1M81 11h1M100 11h1M102 11h1M5 10h1M8 10h1M12 10h1M21 10h1M53 10h2M64 10h2M71 10h1M11 9h1M20 9h1M30 9h1M34 9h1M48 9h1M62 9h1M68 9h1M101 9h1M16 8h2M23 8h1M31 8h1M34 8h1M50 8h1M59 8h1M92 8h1M101 8h1M6 7h1M16 7h1M36 7h1M48 7h1M57 7h1M60 7h1M89 7h1M93 7h1M101 7h1M104 7h1M18 6h1M31 6h1M34 6h1M58 6h1M61 6h1M72 6h1M75 6h1M78 6h1M81 6h2M93 6h1M36 5h1M38 5h1M45 5h1M48 5h1M51 5h1M54 5h1M62 5h1M74 5h1M80 5h1M93 5h2M101 5h1M13 4h1M19 4h1M26 4h2M29 4h2M34 4h1M40 4h1M47 4h1M51 4h1M53 4h3M76 4h1M81 4h1M86 4h1M96 4h3M100 4h1M104 4h1M5 3h1M13 3h2M31 3h1M47 3h1M50 3h1M94 3h1M8 2h1M10 2h1M16 2h1M30 2h1M32 2h1M57 2h1M60 2h1M66 2h1M93 2h1M0 1h1M3 1h2M9 1h1M30 1h2M39 1h1M46 1h1M53 1h1M66 1h1M82 1h1M84 1h1M98 1h1M101 1h1M8 0h1M18 0h1M24 0h1M42 0h1M50 0h1M52 0h2M60 0h1M71 0h1"/>
<path stroke="#5a167e" d="M10 105h1M23 105h1M44 105h1M60 105h1M70 105h1M79 105h1M87 105h2M98 105h1M100 105h1M103 105h1M105 105h1M31 104h1M45 104h1M54 104h1M67 104h1M76 104h2M85 104h1M97 104h1M23 103h1M47 103h1M50 103h1M60 103h1M63 103h1M65 103h1M68 103h1M76 103h1M99 103h1M103 103h1M22 102h1M45 102h3M60 102h1M64 102h1M74 102h1M76 102h1M82 102h1M87 102h1M89 102h1M98 102h1M25 101h1M49 101h1M53 101h1M91 101h1M105 101h1M11 100h1M29 100h1M35 100h1M37 100h1M47 100h1M60 100h1M63 100h1M71 100h1M75 100h1M79 100h1M93 100h1M101 100h1M22 99h1M48 99h1M50 99h1M57 99h1M63 99h1M66 99h1M69 99h1M72 99h1M79 99h1M99 99h1M19 98h1M37 98h1M60 98h1M72 98h1M75 98h2M81 98h1M100 98h1M103 98h1M21 97h2M34 97h1M60 97h1M63 97h1M77 97h1M86 97h1M98 97h1M26 96h1M37 96h1M59 96h1M81 96h1M98 96h2M0 95h1M19 95h2M29 95h1M36 95h1M57 95h2M63 95h1M88 95h1M90 95h1M94 95h1M101 95h1M5 94h1M17 94h1M27 94h1M32 94h1M41 94h1M53 94h1M66 94h1M73 94h1M84 94h1M21 93h1M30 93h1M32 93h1M34 93h1M45 93h1M57 93h1M59 93h1M80 93h1M85 93h1M94 93h1M96 93h1M98 93h1M102 93h1M33 92h1M35 92h1M40 92h1M45 92h3M57 92h1M65 92h1M77 92h1M89 92h1M46 91h1M48 91h1M58 91h1M77 91h1M84 91h1M92 91h1M98 91h1M19 90h1M27 90h1M47 90h1M64 90h2M71 90h1M76 90h1M103 90h1M25 89h1M49 89h1M55 89h1M58 89h1M71 89h2M101 89h1M11 88h1M28 88h1M48 88h1M51 88h1M53 88h1M55 88h1M62 88h1M67 88h1M76 88h1M79 88h1M87 88h1M91 88h1M25 87h1M36 87h1M55 87h1M84 87h1M87 87h1M90 87h1M100 87h2M7 86h1M10 86h1M15 86h1M27 86h1M45 86h2M56 86h1M62 86h1M86 86h1M88 86h1M90 86h1M10 85h1M25 85h1M27 85h3M32 85h3M40 85h1M49 85h1M53 85h2M60 85h1M72 85h1M86 85h1M88 85h2M8 84h1M12 84h1M31 84h2M34 84h1M40 84h1M46 84h1M58 84h1M63 84h1M71 84h1M78 84h1M80 84h1M90 84h1M98 84h1M3 83h1M6 83h1M8 83h1M29 83h1M44 83h1M51 83h1M53 83h2M67 83h1M72 83h1M77 83h1M80 83h1M0 82h1M2 82h1M30 82h1M40 82h1M42 82h1M55 82h1M57 82h2M61 82h1M74 82h1M95 82h1M99 82h1M25 81h1M44 81h1M73 81h1M75 81h1M80 81h1M85 81h1M4 80h1M16 80h1M18 80h1M20 80h1M24 80h1M27 80h1M37 80h1M45 80h1M52 80h1M55 80h1M57 80h1M59 80h2M63 80h1M72 80h1M82 80h1M88 80h1M100 80h2M105 80h1M9 79h1M29 79h1M43 79h1M52 79h2M57 79h1M62 79h2M90 79h1M99 79h1M11 78h1M15 78h1M19 78h2M25 78h1M37 78h1M43 78h1M49 78h1M58 78h1M69 78h1M95 78h1M100 78h1M17 77h1M20 77h1M31 77h1M41 77h1M44 77h1M49 77h2M60 77h1M72 77h1M78 77h2M5 76h1M10 76h1M20 76h1M22 76h1M26 76h1M36 76h1M41 76h1M52 76h1M63 76h1M80 76h1M98 76h1M105 76h1M12 75h1M23 75h1M38 75h1M42 75h1M67 75h1M72 75h1M82 75h1M94 75h1M1 74h1M21 74h1M28 74h1M35 74h1M37 74h1M39 74h1M44 74h1M48 74h1M75 74h2M90 74h1M93 74h1M11 73h2M20 73h2M48 73h1M53 73h1M57 73h1M75 73h1M85 73h1M88 73h1M97 73h1M99 73h1M13 72h1M20 72h1M74 72h1M77 72h1M98 72h1M8 71h1M12 71h1M20 71h2M48 71h2M63 71h1M66 71h1M83 71h1M5 70h1M13 70h1M31 70h1M37 70h3M42 70h1M49 70h1M71 70h1M84 70h2M99 70h1M10 69h1M18 69h1M29 69h1M45 69h3M57 69h1M94 69h1M96 69h1M5 68h1M7 68h1M9 68h1M25 68h1M27 68h1M31 68h1M35 68h1M46 68h1M58 68h1M66 68h1M69 68h1M99 68h1M104 68h1M30 67h1M35 67h1M55 67h1M58 67h1M61 67h1M65 67h1M76 67h1M87 67h1M98 67h1M31 66h1M35 66h1M43 66h2M13 65h1M20 65h2M23 65h1M73 65h1M75 65h2M82 65h1M84 65h1M98 65h2M11 64h1M28 64h2M50 64h1M53 64h1M57 64h1M61 64h2M87 64h1M90 64h2M98 64h1M105 64h1M23 63h1M30 63h1M35 63h1M74 63h1M84 63h1M87 63h1M26 62h2M39 62h1M47 62h1M75 62h2M97 62h1M99 62h1M0 61h1M22 61h1M24 61h1M28 61h1M31 61h1M39 61h1M56 61h1M58 61h2M71 61h1M84 61h1M86 61h1M90 61h2M1 60h1M3 60h1M12 60h2M19 60h1M25 60h1M36 60h1M59 60h1M68 60h1M71 60h1M76 60h1M90 60h1M96 60h1M3 59h1M13 59h2M19 59h1M21 59h1M36 59h2M74 59h1M79 59h1M85 59h1M89 59h1M99 59h1M2 58h2M5 58h1M13 58h1M15 58h1M36 58h1M43 58h1M51 58h1M57 58h1M75 58h4M80 58h1M86 58h1M97 58h2M103 58h1M6 57h1M14 57h1M17 57h1M31 57h2M34 57h1M51 57h1M66 57h1M73 57h2M79 57h1M87 57h1M103 57h1M4 56h1M16 56h1M20 56h1M27 56h2M34 56h2M54 56h1M57 56h1M59 56h1M86 56h1M91 56h1M98 56h1M102 56h1M2 55h1M6 55h1M28 55h1M41 55h1M75 55h1M80 55h2M98 55h1M101 55h1M103 55h1M17 54h1M22 54h1M47 54h2M91 54h1M25 53h2M29 53h1M57 53h2M60 53h1M63 53h1M78 53h1M89 53h1M92 53h1M96 53h1M102 53h1M4 52h1M11 52h1M17 52h1M20 52h1M22 52h1M26 52h1M32 52h1M41 52h1M62 52h1M67 52h1M74 52h2M77 52h1M91 52h1M1 51h1M20 51h1M22 51h1M49 51h1M83 51h1M94 51h1M103 51h1M16 50h3M23 50h1M25 50h1M38 50h1M59 50h1M67 50h1M69 50h1M71 50h1M75 50h1M79 50h1M82 50h1M90 50h1M94 50h1M19 49h1M44 49h1M63 49h1M81 49h1M83 49h1M93 49h2M99 49h2M6 48h1M10 48h1M12 48h2M23 48h1M25 48h2M32 48h1M36 48h1M41 48h1M47 48h1M49 48h1M52 48h1M83 48h1M91 48h1M100 48h1M10 47h1M14 47h1M16 47h1M21 47h1M23 47h1M27 47h1M37 47h2M44 47h1M52 47h1M69 47h1M79 47h1M82 47h1M95 47h1M9 46h1M12 46h1M25 46h1M44 46h2M49 46h1M55 46h1M100 46h1M0 45h1M2 45h2M5 45h1M7 45h2M20 45h1M25 45h1M28 45h1M52 45h1M72 45h1M84 45h1M23 44h1M38 44h1M41 44h1M65 44h1M74 44h1M83 44h1M90 44h2M93 44h1M17 43h1M19 43h1M26 43h1M41 43h1M53 43h1M87 43h1M91 43h1M99 43h1M2 42h1M5 42h2M8 42h1M10 42h1M21 42h1M25 42h2M29 42h1M34 42h1M52 42h1M56 42h1M66 42h1M73 42h1M95 42h1M100 42h1M105 42h1M3 41h1M15 41h1M2 40h1M13 40h1M15 40h1M38 40h1M61 40h1M66 40h1M72 40h1M90 40h1M6 39h1M11 39h1M34 39h1M37 39h1M48 39h1M63 39h1M65 39h1M69 39h1M91 39h1M1 38h1M17 38h1M22 38h1M30 38h1M53 38h1M55 38h1M70 38h1M73 38h1M76 38h1M79 38h1M2 37h1M45 37h1M72 37h2M82 37h1M95 37h1M6 36h1M27 36h1M37 36h1M55 36h1M58 36h1M66 36h1M74 36h1M86 36h1M96 36h1M98 36h1M0 35h1M67 35h1M74 35h1M5 34h1M15 34h2M21 34h1M35 34h1M44 34h2M55 34h1M83 34h1M88 34h1M93 34h1M98 34h1M6 33h2M16 33h1M20 33h1M22 33h1M25 33h1M28 33h1M30 33h1M60 33h1M65 33h1M68 33h1M82 33h1M89 33h2M11 32h1M24 32h1M40 32h1M48 32h1M63 32h1M67 32h2M3 31h1M23 31h1M33 31h1M42 31h1M46 31h1M48 31h1M53 31h1M61 31h1M69 31h2M91 31h1M98 31h1M102 31h1M105 31h1M5 30h1M7 30h1M24 30h1M31 30h2M40 30h1M43 30h1M47 30h1M50 30h1M53 30h1M55 30h1M77 30h1M81 30h1M83 30h1M88 30h1M94 30h1M1 29h3M7 29h1M15 29h1M17 29h1M31 29h1M38 29h1M40 29h1M43 29h1M45 29h1M47 29h1M67 29h1M85 29h2M94 29h1M103 29h1M1 28h1M8 28h1M13 28h2M22 28h1M33 28h1M47 28h1M53 28h1M75 28h1M81 28h1M87 28h1M89 28h1M93 28h1M95 28h1M99 28h1M103 28h1M21 27h1M28 27h1M47 27h1M52 27h1M84 27h1M88 27h2M95 27h1M103 27h2M0 26h1M5 26h2M17 26h1M28 26h1M46 26h1M48 26h1M55 26h1M58 26h1M67 26h1M85 26h1M99 26h1M12 25h1M21 25h2M24 25h1M29 25h1M47 25h1M50 25h1M86 25h1M92 25h1M98 25h1M7 24h1M9 24h1M50 24h1M56 24h1M75 24h1M77 24h1M83 24h2M95 24h2M3 23h1M25 23h1M30 23h1M40 23h1M55 23h1M58 23h1M68 23h1M72 23h1M98 23h1M105 23h1M34 22h1M54 22h1M56 22h2M61 22h1M71 22h1M75 22h1M81 22h1M91 22h1M11 21h1M14 21h1M18 21h1M35 21h1M40 21h1M42 21h1M44 21h1M60 21h1M78 21h1M81 21h1M101 21h1M1 20h1M12 20h1M24 20h1M32 20h1M35 20h1M46 20h1M76 20h1M79 20h1M95 20h2M8 19h1M19 19h2M44 19h1M47 19h1M49 19h1M69 19h1M76 19h1M80 19h1M97 19h1M0 18h1M3 18h1M17 18h2M38 18h1M41 18h2M48 18h1M62 18h1M77 18h1M104 18h1M0 17h1M10 17h1M19 17h2M25 17h1M32 17h1M71 17h1M75 17h1M78 17h1M94 17h1M3 16h1M13 16h1M20 16h1M46 16h1M52 16h1M72 16h1M77 16h2M96 16h1M99 16h1M10 15h1M18 15h2M21 15h1M26 15h1M31 15h1M41 15h1M44 15h2M55 15h1M61 15h1M65 15h1M72 15h1M98 15h1M4 14h1M17 14h1M41 14h1M44 14h1M49 14h1M51 14h1M53 14h1M57 14h1M61 14h2M66 14h1M74 14h1M83 14h1M95 14h2M98 14h1M14 13h1M52 13h1M80 13h1M5 12h1M31 12h1M56 12h1M61 12h1M71 12h1M77 12h1M102 12h1M105 12h1M10 11h1M12 11h1M30 11h1M36 11h1M54 11h3M75 11h2M88 11h1M99 11h1M23 10h1M27 10h1M58 10h1M63 10h1M68 10h1M77 10h2M81 10h1M85 10h1M91 10h1M100 10h1M12 9h1M36 9h1M45 9h1M52 9h1M69 9h1M81 9h1M85 9h1M89 9h1M91 9h1M102 9h1M104 9h1M1 8h1M32 8h1M43 8h1M47 8h1M86 8h1M0 7h1M3 7h1M8 7h2M12 7h1M14 7h1M21 7h1M29 7h1M33 7h1M38 7h1M40 7h2M47 7h1M49 7h2M69 7h1M71 7h1M74 7h1M80 7h1M82 7h1M90 7h2M2 6h1M6 6h1M9 6h1M23 6h1M26 6h1M32 6h1M35 6h1M37 6h1M40 6h1M43 6h1M46 6h1M56 6h1M62 6h1M77 6h1M79 6h1M89 6h1M94 6h1M0 5h1M7 5h1M18 5h1M25 5h1M27 5h1M56 5h2M59 5h1M63 5h1M95 5h1M104 5h1M5 4h1M10 4h1M16 4h1M18 4h1M25 4h1M50 4h1M84 4h1M12 3h1M49 3h1M52 3h1M74 3h1M93 3h1M96 3h1M0 2h1M2 2h1M7 2h1M15 2h1M47 2h2M50 2h1M54 2h1M76 2h3M37 1h1M78 1h1M87 1h1M96 1h1M100 1h1M0 0h1M4 0h1M25 0h1M29 0h1M41 0h1M63 0h1M74 0h1M82 0h1M93 0h1"/>
<path stroke="#641a80" d="M21 105h1M28 105h1M40 105h1M45 105h1M51 105h1M53 105h1M56 105h2M62 105h1M73 105h1M85 105h2M90 105h1M26 104h1M29 104h1M44 104h1M46 104h1M51 104h1M61 104h1M66 104h1M75 104h1M80 104h1M84 104h1M88 104h1M99 104h1M105 104h1M21 103h1M30 103h1M49 103h1M57 103h1M61 103h1M83 103h1M86 103h1M90 103h1M104 103h2M26 102h1M29 102h1M40 102h1M59 102h1M69 102h1M73 102h1M75 102h1M78 102h1M83 102h2M88 102h1M91 102h1M100 102h1M26 101h1M29 101h1M33 101h1M44 101h1M57 101h1M60 101h1M85 101h2M93 101h1M99 101h1M13 100h2M36 100h1M43 100h1M46 100h1M56 100h1M59 100h1M62 100h1M64 100h1M73 100h1M80 100h1M84 100h1M94 100h1M96 100h2M16 99h2M24 99h1M32 99h1M44 99h2M47 99h1M59 99h1M65 99h1M86 99h1M18 98h1M34 98h1M42 98h2M47 98h1M53 98h1M59 98h1M68 98h1M86 98h1M89 98h1M93 98h1M96 98h1M17 97h1M19 97h1M31 97h1M45 97h2M53 97h1M62 97h1M68 97h1M87 97h1M96 97h1M101 97h1M20 96h1M23 96h1M33 96h1M38 96h1M60 96h1M66 96h1M91 96h1M102 96h1M18 95h1M32 95h1M61 95h1M64 95h1M68 95h1M83 95h1M85 95h1M87 95h1M89 95h1M95 95h1M21 94h1M26 94h1M28 94h1M31 94h1M45 94h2M51 94h1M98 94h1M101 94h1M22 93h1M25 93h1M27 93h1M35 93h1M38 93h1M40 93h1M51 93h1M54 93h1M61 93h1M67 93h1M81 93h1M91 93h1M93 93h1M101 93h1M5 92h1M39 92h1M44 92h1M48 92h1M50 92h1M66 92h1M68 92h2M72 92h2M78 92h2M97 92h2M5 91h1M33 91h1M55 91h1M60 91h1M67 91h2M73 91h1M88 91h1M100 91h1M103 91h1M40 90h1M50 90h1M54 90h1M58 90h2M62 90h1M73 90h2M78 90h1M88 90h1M91 90h1M94 90h2M6 89h1M23 89h1M28 89h1M35 89h1M45 89h1M51 89h1M56 89h1M64 89h1M87 89h2M6 88h1M8 88h1M27 88h1M29 88h1M38 88h1M47 88h1M60 88h1M75 88h1M77 88h2M85 88h1M101 88h1M7 87h1M10 87h1M22 87h1M26 87h1M38 87h1M52 87h2M65 87h1M69 87h1M74 87h1M91 87h1M8 86h1M21 86h1M25 86h1M30 86h1M36 86h2M50 86h1M55 86h1M59 86h1M72 86h1M94 86h1M99 86h1M9 85h1M35 85h1M46 85h1M50 85h1M59 85h1M65 85h1M71 85h1M0 84h1M2 84h1M11 84h1M19 84h1M24 84h1M36 84h1M48 84h1M65 84h2M73 84h1M83 84h1M93 84h2M97 84h1M12 83h1M18 83h1M49 83h1M57 83h1M81 83h1M100 83h1M105 83h1M9 82h1M16 82h1M47 82h1M62 82h2M73 82h1M77 82h1M6 81h1M21 81h1M46 81h1M57 81h1M97 81h1M12 80h1M19 80h1M28 80h1M31 80h1M36 80h1M38 80h1M40 80h1M47 80h1M85 80h1M87 80h1M104 80h1M1 79h1M3 79h2M11 79h1M18 79h1M32 79h1M44 79h1M48 79h2M55 79h1M79 79h1M81 79h1M84 79h1M93 79h1M12 78h1M17 78h1M31 78h1M33 78h1M35 78h1M39 78h1M47 78h1M72 78h1M76 78h1M81 78h1M85 78h1M0 77h1M11 77h1M16 77h1M25 77h1M30 77h1M32 77h1M42 77h1M47 77h1M57 77h1M65 77h1M77 77h1M88 77h1M94 77h2M98 77h1M1 76h1M3 76h2M17 76h1M30 76h1M47 76h1M54 76h1M60 76h1M67 76h1M84 76h2M91 76h1M96 76h1M2 75h1M19 75h1M28 75h2M35 75h1M40 75h1M61 75h1M69 75h1M73 75h1M76 75h1M86 75h1M97 75h2M8 74h1M11 74h1M25 74h1M27 74h1M34 74h1M40 74h2M43 74h1M53 74h1M61 74h2M77 74h1M79 74h1M86 74h1M6 73h1M10 73h1M26 73h1M28 73h1M36 73h1M38 73h1M67 73h1M73 73h2M80 73h1M86 73h1M90 73h1M95 73h1M105 73h1M4 72h1M9 72h1M14 72h1M27 72h1M67 72h2M75 72h1M85 72h1M93 72h2M7 71h1M31 71h1M67 71h1M80 71h1M12 70h1M16 70h1M20 70h1M27 70h1M30 70h1M44 70h1M46 70h1M59 70h1M61 70h1M72 70h1M88 70h1M5 69h1M19 69h1M21 69h1M25 69h1M32 69h1M38 69h2M41 69h1M44 69h1M53 69h1M71 69h1M82 69h1M97 69h1M19 68h1M44 68h1M50 68h1M55 68h1M67 68h1M72 68h1M77 68h1M89 68h2M101 68h1M9 67h1M12 67h1M17 67h2M25 67h1M32 67h1M36 67h1M50 67h2M63 67h1M66 67h1M74 67h1M77 67h1M83 67h1M13 66h1M27 66h1M36 66h1M45 66h1M50 66h1M55 66h1M65 66h1M74 66h1M83 66h1M91 66h1M0 65h1M3 65h1M12 65h1M15 65h1M25 65h1M30 65h2M44 65h1M59 65h1M74 65h1M86 65h1M97 65h1M100 65h1M105 65h1M31 64h1M36 64h1M44 64h1M46 64h1M63 64h1M68 64h1M77 64h1M7 63h1M28 63h1M55 63h1M59 63h1M69 63h1M72 63h1M85 63h1M98 63h1M100 63h1M5 62h1M7 62h1M31 62h1M45 62h1M61 62h1M72 62h1M98 62h1M1 61h1M4 61h1M6 61h1M13 61h1M26 61h1M35 61h3M40 61h2M46 61h1M48 61h1M61 61h1M73 61h1M79 61h1M81 61h1M101 61h1M0 60h1M6 60h1M8 60h1M11 60h1M16 60h1M39 60h1M43 60h1M66 60h1M77 60h1M81 60h1M1 59h1M5 59h1M8 59h1M11 59h1M20 59h1M24 59h1M35 59h1M41 59h1M44 59h1M61 59h1M69 59h1M72 59h1M82 59h1M101 59h1M6 58h2M17 58h1M23 58h1M25 58h1M27 58h3M62 58h1M68 58h1M83 58h1M85 58h1M94 58h1M99 58h1M13 57h1M21 57h1M26 57h1M44 57h1M77 57h1M99 57h1M101 57h2M2 56h1M22 56h1M26 56h1M58 56h1M69 56h1M77 56h1M81 56h1M90 56h1M105 56h1M13 55h1M15 55h1M19 55h2M37 55h3M54 55h1M56 55h1M60 55h1M63 55h1M76 55h1M82 55h2M0 54h2M11 54h2M16 54h1M38 54h1M62 54h2M97 54h1M99 54h1M18 53h1M55 53h1M62 53h1M68 53h1M81 53h1M86 53h1M97 53h1M0 52h1M7 52h2M18 52h1M31 52h1M36 52h1M56 52h1M79 52h1M12 51h1M15 51h1M29 51h1M50 51h1M88 51h1M93 51h1M105 51h1M14 50h1M19 50h1M26 50h1M37 50h1M39 50h1M42 50h1M52 50h1M61 50h1M74 50h1M76 50h1M93 50h1M0 49h1M5 49h1M16 49h1M50 49h1M53 49h1M57 49h1M67 49h1M72 49h1M74 49h1M76 49h1M87 49h2M105 49h1M0 48h1M2 48h1M4 48h1M22 48h1M24 48h1M28 48h1M56 48h1M69 48h1M94 48h1M15 47h1M49 47h1M66 47h1M81 47h1M83 47h1M93 47h1M97 47h2M3 46h1M5 46h3M15 46h1M19 46h2M35 46h1M40 46h1M42 46h1M62 46h2M72 46h1M95 46h1M99 46h1M105 46h1M4 45h1M9 45h1M14 45h1M17 45h1M29 45h1M50 45h1M62 45h1M66 45h1M85 45h1M97 45h1M100 45h2M1 44h2M10 44h1M12 44h1M30 44h2M35 44h1M43 44h2M46 44h1M55 44h1M62 44h1M67 44h1M81 44h1M97 44h1M100 44h1M0 43h1M5 43h1M8 43h1M15 43h1M23 43h1M31 43h1M47 43h1M51 43h2M59 43h3M68 43h1M90 43h1M94 43h2M23 42h1M38 42h1M41 42h1M50 42h2M59 42h1M77 42h1M82 42h2M98 42h1M101 42h2M5 41h1M10 41h1M16 41h1M6 40h1M18 40h1M20 40h2M28 40h1M39 40h1M73 40h1M75 40h1M80 40h1M82 40h1M88 40h1M1 39h1M9 39h1M13 39h1M21 39h1M38 39h1M45 39h1M58 39h1M60 39h1M71 39h1M86 39h1M99 39h1M12 38h1M14 38h1M29 38h1M32 38h3M37 38h1M56 38h1M61 38h1M84 38h2M90 38h1M99 38h2M7 37h2M10 37h1M13 37h2M33 37h1M41 37h1M47 37h1M52 37h1M62 37h1M74 37h1M80 37h1M94 37h1M98 37h1M3 36h1M13 36h1M18 36h1M30 36h1M42 36h1M46 36h1M49 36h1M57 36h1M71 36h1M79 36h1M94 36h1M97 36h1M100 36h1M71 35h1M20 34h1M36 34h1M66 34h1M69 34h2M73 34h1M97 34h1M99 34h1M13 33h1M19 33h1M27 33h1M35 33h1M37 33h1M42 33h2M46 33h1M56 33h1M59 33h1M80 33h1M83 33h1M88 33h1M98 33h1M0 32h1M3 32h1M5 32h1M13 32h3M21 32h1M23 32h1M30 32h1M32 32h1M44 32h1M65 32h1M71 32h1M74 32h1M79 32h1M82 32h1M91 32h1M93 32h2M98 32h1M15 31h1M18 31h1M32 31h1M38 31h3M55 31h2M68 31h1M73 31h1M87 31h2M1 30h1M3 30h1M17 30h1M33 30h1M65 30h1M82 30h1M98 30h1M27 29h1M30 29h1M50 29h1M55 29h2M79 29h1M83 29h1M93 29h1M96 29h1M17 28h1M23 28h1M28 28h1M31 28h1M37 28h2M41 28h1M45 28h1M48 28h2M63 28h1M3 27h1M13 27h1M15 27h1M17 27h1M85 27h1M96 27h1M100 27h1M102 27h1M13 26h1M26 26h1M31 26h1M44 26h1M53 26h1M69 26h1M73 26h1M76 26h1M93 26h3M97 26h1M1 25h1M5 25h1M32 25h1M34 25h1M65 25h1M68 25h1M72 25h1M83 25h1M96 25h1M101 25h1M12 24h1M22 24h1M26 24h2M44 24h2M49 24h1M52 24h1M58 24h1M61 24h1M93 24h1M36 23h1M46 23h1M50 23h1M63 23h1M65 23h1M73 23h1M75 23h1M94 23h1M101 23h1M2 22h2M10 22h1M21 22h1M38 22h2M47 22h1M50 22h1M58 22h1M63 22h1M72 22h1M76 22h1M80 22h1M96 22h3M101 22h1M1 21h1M3 21h1M5 21h1M26 21h1M29 21h1M67 21h1M86 21h2M93 21h1M98 21h1M103 21h1M0 20h1M4 20h1M10 20h1M17 20h1M25 20h1M27 20h1M29 20h1M33 20h1M42 20h1M47 20h1M60 20h1M67 20h1M78 20h1M102 20h1M0 19h1M2 19h1M4 19h1M6 19h2M30 19h3M40 19h1M52 19h1M66 19h1M84 19h1M95 19h1M8 18h1M10 18h1M16 18h1M25 18h1M56 18h1M74 18h1M84 18h1M1 17h1M3 17h1M14 17h3M28 17h1M35 17h1M54 17h1M56 17h1M65 17h1M72 17h1M74 17h1M91 17h1M7 16h1M10 16h1M37 16h1M0 15h1M2 15h1M32 15h1M37 15h1M49 15h1M62 15h1M67 15h1M99 15h1M3 14h1M9 14h1M12 14h1M15 14h1M18 14h1M29 14h1M39 14h1M73 14h1M88 14h1M97 14h1M4 12h1M7 12h1M12 12h1M21 12h1M26 12h1M33 12h1M54 12h2M58 12h1M73 12h1M76 12h1M79 12h1M81 12h1M84 12h1M101 12h1M5 11h1M15 11h1M19 11h1M21 11h1M28 11h1M33 11h1M47 11h1M57 11h1M62 11h1M68 11h2M73 11h1M79 11h1M82 11h1M95 11h1M10 10h1M15 10h1M28 10h1M32 10h1M59 10h1M62 10h1M79 10h1M86 10h1M94 10h1M102 10h1M105 10h1M5 9h1M7 9h2M29 9h1M76 9h1M78 9h1M80 9h1M83 9h1M5 8h1M13 8h1M21 8h1M24 8h1M30 8h1M36 8h1M40 8h1M51 8h2M58 8h1M60 8h2M69 8h1M71 8h1M79 8h1M83 8h1M91 8h1M103 8h1M11 7h1M13 7h1M28 7h1M30 7h1M42 7h2M58 7h1M63 7h1M68 7h1M72 7h2M75 7h1M83 7h2M100 7h1M103 7h1M105 7h1M1 6h1M4 6h1M19 6h1M47 6h2M51 6h1M59 6h1M66 6h2M71 6h1M90 6h1M3 5h1M14 5h1M22 5h1M40 5h1M42 5h1M60 5h2M67 5h1M69 5h1M78 5h1M98 5h1M8 4h1M11 4h2M17 4h1M37 4h1M44 4h1M46 4h1M48 4h1M60 4h1M63 4h1M80 4h1M82 4h2M93 4h1M102 4h1M9 3h1M48 3h1M63 3h1M78 3h1M85 3h1M95 3h1M101 3h1M14 2h1M84 2h1M97 2h2M2 1h1M25 1h1M1 0h2M22 0h1M32 0h1M40 0h1M49 0h1M54 0h1M56 0h1M59 0h1M95 0h1M98 0h1"/>
<path stroke="#6b1d81" d="M14 104h1M19 104h1M25 104h1M43 104h1M47 104h2M72 104h1M82 104h1M98 104h1M26 103h1M44 103h1M46 103h1M55 103h1M69 103h1M75 103h1M81 103h2M91 103h1M7 102h1M11 102h1M20 102h1M28 102h1M49 102h1M56 102h2M63 102h1M77 102h1M79 102h1M85 102h2M99 102h1M30 101h1M32 101h1M38 101h1M45 101h1M58 101h1M67 101h1M101 101h1M31 100h1M33 100h1M42 100h1M44 100h1M65 100h1M83 100h1M88 100h1M91 100h1M11 99h1M15 99h1M33 99h1M80 99h1M83 99h1M85 99h1M97 99h1M3 98h1M20 98h1M52 98h1M66 98h2M79 98h1M83 98h1M85 98h1M94 98h1M32 97h1M37 97h1M48 97h1M58 97h2M66 97h1M82 97h1M90 97h2M100 97h1M32 96h1M34 96h1M36 96h1M45 96h1M68 96h1M70 96h1M75 96h2M89 96h1M93 96h1M30 95h1M42 95h1M45 95h1M59 95h1M77 95h1M3 94h1M6 94h1M13 94h1M15 94h1M19 94h2M30 94h1M50 94h1M67 94h1M80 94h1M88 94h1M95 94h1M19 93h1M37 93h1M49 93h1M53 93h1M56 93h1M73 93h1M76 93h1M103 93h1M11 92h1M25 92h1M32 92h1M36 92h1M43 92h1M51 92h2M55 92h1M58 92h1M80 92h1M93 92h1M96 92h1M103 92h1M1 91h1M19 91h1M21 91h1M27 91h1M41 91h1M44 91h1M51 91h1M74 91h2M97 91h1M6 90h1M11 90h1M33 90h1M44 90h1M48 90h2M56 90h1M96 90h1M102 90h1M20 89h1M30 89h1M32 89h1M38 89h1M60 89h1M62 89h1M76 89h1M78 89h1M80 89h1M96 89h1M99 89h1M36 88h2M57 88h1M81 88h1M84 88h1M90 88h1M93 88h1M45 87h1M51 87h1M54 87h1M56 87h1M58 87h1M75 87h2M78 87h1M1 86h1M11 86h2M14 86h1M26 86h1M58 86h1M61 86h1M67 86h1M74 86h1M80 86h1M3 85h1M7 85h1M11 85h1M16 85h1M30 85h2M83 85h1M91 85h1M14 84h1M28 84h3M33 84h1M42 84h1M49 84h1M51 84h1M56 84h1M60 84h1M68 84h1M72 84h1M82 84h1M96 84h1M23 83h1M27 83h1M30 83h1M39 83h1M42 83h1M52 83h1M60 83h1M75 83h1M90 83h1M95 83h1M22 82h1M41 82h1M59 82h1M72 82h1M93 82h1M37 81h1M40 81h1M45 81h1M95 81h2M1 80h1M13 80h1M33 80h1M44 80h1M58 80h1M62 80h1M68 80h1M71 80h1M81 80h1M84 80h1M97 80h1M103 80h1M2 79h1M19 79h1M68 79h1M14 78h1M22 78h1M30 78h1M41 78h1M60 78h1M78 78h1M80 78h1M91 78h1M94 78h1M102 78h1M3 77h1M21 77h1M38 77h1M48 77h1M53 77h2M74 77h1M81 77h4M99 77h1M101 77h1M21 76h1M45 76h1M48 76h1M55 76h1M61 76h2M81 76h1M88 76h1M93 76h3M102 76h1M4 75h1M10 75h2M16 75h1M20 75h3M27 75h1M49 75h1M59 75h1M90 75h1M99 75h1M5 74h1M20 74h1M84 74h2M88 74h1M4 73h1M8 73h2M13 73h1M16 73h1M44 73h1M49 73h1M52 73h1M55 73h1M58 73h1M65 73h1M84 73h1M98 73h1M5 72h2M15 72h1M21 72h1M25 72h1M46 72h1M59 72h2M66 72h1M83 72h1M9 71h1M37 71h1M53 71h1M59 71h1M65 71h1M71 71h1M78 71h1M94 71h1M98 71h1M40 70h2M50 70h1M58 70h1M65 70h1M77 70h1M94 70h2M98 70h1M9 69h1M13 69h1M17 69h1M68 69h1M72 69h1M80 69h2M95 69h1M8 68h1M12 68h1M17 68h1M24 68h1M34 68h1M42 68h2M52 68h2M57 68h1M61 68h1M63 68h1M79 68h1M84 68h1M91 68h1M93 68h1M95 68h1M97 68h2M4 67h1M16 67h1M28 67h1M45 67h1M78 67h1M22 66h1M46 66h1M49 66h1M67 66h1M72 66h1M96 66h1M24 65h1M35 65h1M48 65h1M53 65h1M56 65h1M58 65h1M66 65h1M87 65h1M91 65h1M14 64h1M23 64h1M27 64h1M35 64h1M48 64h1M52 64h1M76 64h1M5 63h1M10 63h1M21 63h2M37 63h1M47 63h1M50 63h4M65 63h2M82 63h1M97 63h1M1 62h1M13 62h1M37 62h1M44 62h1M66 62h1M68 62h1M74 62h1M80 62h1M2 61h1M5 61h1M14 61h2M25 61h1M32 61h1M43 61h1M74 61h1M78 61h1M97 61h1M4 60h1M9 60h2M18 60h1M24 60h1M29 60h1M38 60h1M47 60h2M61 60h1M74 60h1M78 60h1M84 60h1M88 60h1M95 60h1M2 59h1M33 59h1M39 59h1M53 59h1M59 59h1M68 59h1M75 59h2M88 59h1M91 59h1M95 59h2M98 59h1M1 58h1M42 58h1M45 58h1M53 58h2M69 58h1M72 58h1M74 58h1M84 58h1M87 58h1M100 58h1M1 57h1M8 57h1M15 57h1M28 57h2M40 57h2M45 57h1M56 57h1M61 57h1M82 57h1M91 57h1M93 57h1M3 56h1M12 56h1M15 56h1M21 56h1M30 56h1M32 56h1M39 56h1M55 56h1M68 56h1M83 56h1M94 56h1M96 56h2M101 56h1M11 55h1M35 55h1M42 55h1M57 55h1M59 55h1M95 55h1M13 54h2M18 54h1M21 54h1M42 54h1M67 54h1M74 54h1M82 54h1M96 54h1M7 53h1M13 53h1M22 53h1M32 53h1M37 53h1M41 53h2M61 53h1M66 53h1M72 53h1M74 53h1M77 53h1M91 53h1M100 53h2M12 52h1M28 52h1M34 52h1M37 52h1M40 52h1M42 52h1M46 52h2M58 52h1M71 52h1M86 52h1M96 52h2M18 51h1M28 51h1M47 51h1M58 51h1M65 51h2M72 51h1M76 51h1M2 50h1M13 50h1M29 50h1M32 50h1M49 50h1M72 50h1M97 50h1M3 49h1M12 49h1M15 49h1M18 49h1M21 49h1M40 49h1M48 49h1M59 49h1M69 49h1M71 49h1M77 49h1M91 49h1M97 49h1M3 48h1M17 48h1M37 48h1M50 48h1M58 48h1M71 48h1M86 48h1M99 48h1M4 47h1M8 47h1M13 47h1M18 47h2M25 47h1M32 47h1M35 47h1M40 47h1M53 47h2M57 47h1M59 47h1M63 47h1M77 47h1M85 47h2M8 46h1M10 46h1M23 46h1M30 46h1M33 46h2M46 46h1M50 46h1M56 46h1M58 46h1M67 46h1M81 46h1M85 46h1M16 45h1M21 45h2M27 45h1M33 45h1M93 45h2M19 44h1M29 44h1M37 44h1M45 44h1M48 44h1M52 44h1M103 44h1M16 43h1M25 43h1M29 43h1M72 43h1M3 42h1M37 42h1M58 42h1M87 42h1M91 42h1M96 42h1M104 42h1M5 40h1M32 40h1M34 40h2M42 40h1M54 40h1M69 40h1M71 40h1M97 40h1M7 39h2M33 39h1M40 39h1M42 39h2M52 39h1M54 39h1M72 39h1M80 39h2M83 39h1M89 39h1M4 38h1M7 38h1M11 38h1M19 38h1M39 38h1M51 38h1M59 38h1M71 38h1M77 38h1M80 38h1M9 37h1M21 37h1M25 37h2M36 37h1M43 37h1M46 37h1M49 37h1M71 37h1M93 37h1M2 36h1M47 36h1M56 36h1M65 36h1M78 36h1M9 35h1M25 34h1M34 34h1M53 34h1M56 34h2M65 34h1M67 34h2M94 34h1M1 33h1M21 33h1M23 33h1M36 33h1M39 33h1M47 33h1M52 33h1M54 33h2M62 33h1M66 33h1M78 33h1M85 33h1M12 32h1M76 32h1M97 32h1M14 31h1M19 31h1M28 31h1M43 31h3M47 31h1M51 31h2M78 31h1M81 31h1M99 31h1M2 30h1M9 30h1M14 30h1M18 30h1M22 30h1M46 30h1M76 30h1M93 30h1M96 30h2M9 29h1M12 29h1M16 29h1M18 29h1M41 29h1M46 29h1M54 29h1M73 29h1M75 29h1M3 28h1M10 28h1M35 28h1M52 28h1M56 28h1M58 28h1M67 28h1M88 28h1M94 28h1M16 27h1M18 27h1M27 27h1M34 27h1M38 27h1M44 27h2M69 27h1M72 27h1M74 27h1M3 26h1M7 26h1M37 26h1M91 26h1M100 26h1M6 25h1M11 25h1M13 25h1M16 25h1M19 25h1M27 25h1M36 25h1M43 25h1M66 25h2M99 25h1M2 24h1M17 24h1M25 24h1M28 24h2M36 24h1M59 24h1M66 24h1M74 24h1M105 24h1M1 23h2M8 23h1M21 23h1M28 23h1M42 23h1M48 23h1M51 23h1M84 23h1M91 23h1M96 23h1M100 23h1M5 22h3M20 22h1M28 22h1M33 22h1M49 22h1M66 22h1M94 22h1M99 22h1M17 21h1M25 21h1M28 21h1M31 21h2M37 21h1M45 21h1M47 21h1M82 21h1M88 21h1M97 21h1M3 20h1M6 20h2M31 20h1M58 20h2M72 20h1M93 20h1M97 20h1M3 19h1M53 19h1M57 19h2M88 19h1M96 19h1M40 18h1M47 18h1M63 18h1M88 18h1M5 17h1M11 17h1M29 17h1M31 17h1M45 17h2M77 17h1M84 17h1M86 17h2M99 17h1M9 16h1M66 16h1M8 15h1M17 15h1M22 15h1M30 15h1M2 14h1M5 14h1M8 14h1M20 14h1M27 14h1M37 14h1M40 14h1M46 14h1M48 14h1M52 14h1M56 14h1M63 14h1M79 14h1M82 14h1M9 12h1M13 12h1M17 12h1M23 12h1M29 12h1M37 12h1M48 12h1M60 12h1M68 12h1M75 12h1M85 12h1M104 12h1M7 11h1M27 11h1M29 11h1M34 11h2M49 11h1M60 11h1M71 11h1M77 11h1M83 11h1M97 11h1M11 10h1M22 10h1M24 10h1M29 10h1M35 10h3M45 10h2M50 10h1M99 10h1M103 10h2M13 9h1M15 9h2M21 9h1M24 9h1M39 9h1M46 9h1M49 9h1M51 9h1M53 9h1M63 9h1M75 9h1M82 9h1M86 9h1M103 9h1M6 8h1M14 8h1M25 8h1M37 8h1M42 8h1M44 8h1M49 8h1M53 8h1M55 8h2M65 8h1M73 8h1M75 8h1M84 8h2M94 8h1M100 8h1M1 7h1M32 7h1M34 7h2M37 7h1M46 7h1M3 6h1M16 6h1M28 6h1M30 6h1M57 6h1M74 6h1M80 6h1M83 6h1M88 6h1M95 6h1M8 5h1M47 5h1M52 5h1M79 5h1M82 5h1M97 5h1M4 4h1M28 4h1M49 4h1M52 4h1M15 3h1M27 3h1M29 3h1M104 3h1M12 2h2M25 2h1M61 2h1M95 2h2M104 2h1M63 1h1M93 1h1M95 1h1M102 1h2M81 0h1"/>
<path stroke="#752181" d="M8 105h1M31 105h1M39 105h1M43 105h1M46 105h1M52 105h1M72 105h1M80 105h2M93 105h1M101 105h1M7 104h1M9 104h1M13 104h1M32 104h1M59 104h2M91 104h1M94 104h1M27 103h1M29 103h1M45 103h1M53 103h1M56 103h1M58 103h1M71 103h2M85 103h1M97 103h1M101 103h1M14 102h1M61 102h1M65 102h1M68 102h1M97 102h1M101 102h1M103 102h1M27 101h2M59 101h1M63 101h1M69 101h1M77 101h1M80 101h1M82 101h1M96 101h2M102 101h1M7 100h1M12 100h1M15 100h1M21 100h1M30 100h1M81 100h1M7 99h1M18 99h2M29 99h1M31 99h1M42 99h1M67 99h1M77 99h1M1 98h1M5 98h2M11 98h2M15 98h2M41 98h1M62 98h2M69 98h1M73 98h2M98 98h1M0 97h1M15 97h2M18 97h1M39 97h1M50 97h1M52 97h1M69 97h1M71 97h1M73 97h1M88 97h1M97 97h1M1 96h1M24 96h1M41 96h1M57 96h1M61 96h1M73 96h1M78 96h1M86 96h2M97 96h1M101 96h1M22 95h1M33 95h1M44 95h1M50 95h1M65 95h2M82 95h1M91 95h1M98 95h1M7 94h1M18 94h1M37 94h1M97 94h1M5 93h1M7 93h1M17 93h1M33 93h1M74 93h1M97 93h1M105 93h1M1 92h1M19 92h1M31 92h1M41 92h1M56 92h1M61 92h1M67 92h1M83 92h1M86 92h1M88 92h1M3 91h1M20 91h1M25 91h1M31 91h1M34 91h2M40 91h1M42 91h1M49 91h1M54 91h1M78 91h1M86 91h1M96 91h1M5 90h1M7 90h2M20 90h2M28 90h3M55 90h1M97 90h1M7 89h2M26 89h1M36 89h2M39 89h1M47 89h1M50 89h1M52 89h1M102 89h1M12 88h1M20 88h1M35 88h1M72 88h1M83 88h1M95 88h1M102 88h1M6 87h1M8 87h1M11 87h1M46 87h1M60 87h1M66 87h1M77 87h1M88 87h1M6 86h1M13 86h1M39 86h1M54 86h1M60 86h1M65 86h1M78 86h1M82 86h1M14 85h2M17 85h1M52 85h1M63 85h1M95 85h1M5 84h1M15 84h1M23 84h1M37 84h1M45 84h1M74 84h1M10 83h1M38 83h1M40 83h2M56 83h1M59 83h1M61 83h3M88 83h1M21 82h1M9 81h1M26 81h1M42 81h1M55 81h1M63 81h1M88 81h1M14 80h1M29 80h1M41 80h1M66 80h2M76 80h2M94 80h1M99 80h1M16 79h1M24 79h1M35 79h1M40 79h1M42 79h1M56 79h1M60 79h1M65 79h1M71 79h1M85 79h1M87 79h2M100 79h1M103 79h1M2 78h1M4 78h1M34 78h1M40 78h1M59 78h1M88 78h1M4 77h1M15 77h1M33 77h1M58 77h1M62 77h1M67 77h1M80 77h1M87 77h1M96 77h1M2 76h1M6 76h1M15 76h1M25 76h1M33 76h1M40 76h1M42 76h1M53 76h1M66 76h1M99 76h1M5 75h1M15 75h1M37 75h1M60 75h1M65 75h1M74 75h1M0 74h1M6 74h1M13 74h2M56 74h1M59 74h1M1 73h1M34 73h1M37 73h1M50 73h1M83 73h1M96 73h1M10 72h1M12 72h1M28 72h2M35 72h1M40 72h1M53 72h1M58 72h1M84 72h1M95 72h1M14 71h1M27 71h1M32 71h1M35 71h1M72 71h1M74 71h1M77 71h1M84 71h1M95 71h1M14 70h1M17 70h1M26 70h1M33 70h2M36 70h1M53 70h1M63 70h1M80 70h1M97 70h1M16 69h1M35 69h1M37 69h1M99 69h1M11 68h1M16 68h1M21 68h1M30 68h1M32 68h1M36 68h1M48 68h1M59 68h1M62 68h1M78 68h1M80 68h1M86 68h1M88 68h1M22 67h1M47 67h1M49 67h1M59 67h1M97 67h1M0 66h1M8 66h1M16 66h1M19 66h1M47 66h1M59 66h1M80 66h1M100 66h1M14 65h1M22 65h1M26 65h2M29 65h1M33 65h1M54 65h1M78 65h1M83 65h1M88 65h1M95 65h1M7 64h1M9 64h1M13 64h1M22 64h1M25 64h1M45 64h1M58 64h2M65 64h2M84 64h1M86 64h1M97 64h1M6 63h1M14 63h1M24 63h1M26 63h1M29 63h1M54 63h1M77 63h1M96 63h1M0 62h1M46 62h1M55 62h1M82 62h2M93 62h2M10 61h1M54 61h1M72 61h1M77 61h1M96 61h1M100 61h1M2 60h1M21 60h1M41 60h1M50 60h1M53 60h1M55 60h1M63 60h1M85 60h1M93 60h1M0 59h1M18 59h1M43 59h1M50 59h1M80 59h1M83 59h2M87 59h1M94 59h1M16 58h1M38 58h2M66 58h1M82 58h1M91 58h1M96 58h1M37 57h1M50 57h1M55 57h1M95 57h1M97 57h1M14 56h1M38 56h1M65 56h1M67 56h1M79 56h1M84 56h1M99 56h1M8 55h1M10 55h1M16 55h1M32 55h1M45 55h2M48 55h1M73 55h1M86 55h1M54 54h1M66 54h1M73 54h1M83 54h1M93 54h1M0 53h1M8 53h1M16 53h1M20 53h1M69 53h1M75 53h1M80 53h1M82 53h1M95 53h1M2 52h1M29 52h1M33 52h1M35 52h1M45 52h1M55 52h1M65 52h1M72 52h2M78 52h1M82 52h1M85 52h1M93 52h1M100 52h1M14 51h1M19 51h1M40 51h1M42 51h1M44 51h1M51 51h1M57 51h1M63 51h1M73 51h2M15 50h1M24 50h1M43 50h1M45 50h1M48 50h1M53 50h1M99 50h1M2 49h1M13 49h1M22 49h1M26 49h1M31 49h1M78 49h1M84 49h1M9 48h1M54 48h1M61 48h1M2 47h1M28 47h1M33 47h1M41 47h1M68 47h1M80 47h1M96 47h1M101 47h1M1 46h1M4 46h1M22 46h1M27 46h1M31 46h1M37 46h3M41 46h1M61 46h1M69 46h1M82 46h1M84 46h1M101 46h1M1 45h1M18 45h2M26 45h1M30 45h1M80 45h1M3 44h1M9 44h1M13 44h1M22 44h1M57 44h1M59 44h1M80 44h1M85 44h1M98 44h1M7 43h1M22 43h1M28 43h1M37 43h1M63 43h1M65 43h1M74 43h1M88 43h1M4 42h1M7 42h1M20 42h1M22 42h1M24 42h1M35 42h1M45 42h1M54 42h1M62 42h1M74 42h1M97 42h1M3 40h1M10 40h1M19 40h1M26 40h1M30 40h1M41 40h1M49 40h1M53 40h1M62 40h1M76 40h1M84 40h1M86 40h1M96 40h1M101 40h1M10 39h1M18 39h1M25 39h1M29 39h1M41 39h1M47 39h1M51 39h1M76 39h1M85 39h1M88 39h1M102 39h1M6 38h1M13 38h1M25 38h1M28 38h1M49 38h1M68 38h1M82 38h1M88 38h1M3 37h1M58 37h1M67 37h1M69 37h1M78 37h1M97 37h1M4 36h1M7 36h2M52 36h1M59 36h1M68 36h1M95 36h1M2 34h1M8 34h1M26 34h1M0 33h1M2 33h1M17 33h1M34 33h1M44 33h1M53 33h1M77 33h1M91 33h1M96 33h1M101 33h1M7 32h3M50 32h2M53 32h2M80 32h2M7 31h1M12 31h1M21 31h1M30 31h1M34 31h1M54 31h1M62 31h2M76 31h1M83 31h2M94 31h1M97 31h1M52 30h1M95 30h1M25 29h1M65 29h2M74 29h1M4 28h1M6 28h1M18 28h1M25 28h1M34 28h1M42 28h1M44 28h1M72 28h1M96 28h1M9 27h1M14 27h1M19 27h1M37 27h1M40 27h1M53 27h1M56 27h1M68 27h1M79 27h1M82 27h1M49 26h1M78 26h1M81 26h1M83 26h1M96 26h1M0 25h1M4 25h1M28 25h1M35 25h1M37 25h1M39 25h1M46 25h1M52 25h1M58 25h1M60 25h2M73 25h1M105 25h1M0 24h1M5 24h1M73 24h1M79 24h1M4 23h1M10 23h1M19 23h1M43 23h1M47 23h1M52 23h2M59 23h1M67 23h1M78 23h1M83 23h1M95 23h1M13 22h1M17 22h1M32 22h1M40 22h1M43 22h1M46 22h1M51 22h1M74 22h1M79 22h1M82 22h1M33 21h2M41 21h1M46 21h1M49 21h1M56 21h1M59 21h1M65 21h1M74 21h1M85 21h1M2 20h1M26 20h1M45 20h1M53 20h1M61 20h1M66 20h1M84 20h1M9 19h1M13 19h2M37 19h1M41 19h1M50 19h1M65 19h1M87 19h1M9 18h1M26 18h1M28 18h1M46 18h1M86 18h1M8 17h1M13 17h1M18 17h1M22 17h1M24 17h1M26 17h2M37 17h1M40 17h1M62 17h1M66 17h2M97 15h1M1 14h1M10 14h1M47 14h1M72 14h1M0 12h1M43 12h1M45 12h1M51 12h1M53 12h1M1 11h1M25 11h1M43 11h1M46 11h1M74 11h1M103 11h1M17 10h1M20 10h1M33 10h2M40 10h1M48 10h1M52 10h1M69 10h1M75 10h1M82 10h1M4 9h1M14 9h1M28 9h1M32 9h1M42 9h1M44 9h1M47 9h1M58 9h1M65 9h1M72 9h1M77 9h1M79 9h1M99 9h1M2 8h3M8 8h2M11 8h2M15 8h1M35 8h1M38 8h1M41 8h1M48 8h1M63 8h1M68 8h1M74 8h1M90 8h1M102 8h1M7 7h1M10 7h1M61 7h1M25 6h1M29 6h1M36 6h1M49 6h1M55 6h1M96 6h1M105 6h1M26 5h1M39 5h1M44 5h1M53 5h1M0 4h1M2 4h2M9 4h1M58 4h2M65 4h1M72 4h1M4 3h1M16 3h2M66 3h1M97 3h1M3 2h1M26 2h1M94 2h1M12 0h1M80 0h1M99 0h1"/>
<path stroke="#7c2382" d="M22 105h1M29 105h2M55 105h1M65 105h1M67 105h2M74 105h1M78 105h1M82 105h2M94 105h1M99 105h1M37 104h1M41 104h1M52 104h1M74 104h1M96 104h1M19 103h1M38 103h1M52 103h1M73 103h1M79 103h1M87 103h1M100 103h1M102 103h1M25 102h1M39 102h1M58 102h1M11 101h2M14 101h1M34 101h1M37 101h1M40 101h1M61 101h1M66 101h1M88 101h1M98 101h1M16 100h5M34 100h1M45 100h1M58 100h1M72 100h1M8 99h1M43 99h1M46 99h1M58 99h1M62 99h1M78 99h1M10 98h1M13 98h1M29 98h1M32 98h1M65 98h1M78 98h1M84 98h1M88 98h1M90 98h1M97 98h1M99 98h1M6 97h1M25 97h1M29 97h1M42 97h1M44 97h1M54 97h1M74 97h1M80 97h1M85 97h1M15 96h2M25 96h1M51 96h1M58 96h1M62 96h1M69 96h1M71 96h1M79 96h1M85 96h1M90 96h1M92 96h1M94 96h1M96 96h1M7 95h1M14 95h3M21 95h1M37 95h1M52 95h2M73 95h2M81 95h1M96 95h1M4 94h1M29 94h1M81 94h1M91 94h1M4 93h1M16 93h1M18 93h1M28 93h1M58 93h1M90 93h1M99 93h2M7 92h1M21 92h1M27 92h1M49 92h1M87 92h1M4 91h1M10 91h1M16 91h1M50 91h1M56 91h2M79 91h1M9 90h2M31 90h1M46 90h1M66 90h1M82 90h1M84 90h1M93 90h1M5 89h1M9 89h2M12 89h1M14 89h1M22 89h1M31 89h1M44 89h1M48 89h1M53 89h1M61 89h1M65 89h2M81 89h1M83 89h1M94 89h2M5 88h1M40 88h1M44 88h2M49 88h1M54 88h1M59 88h1M80 88h1M5 87h1M12 87h1M21 87h1M30 87h1M35 87h1M37 87h1M49 87h1M62 87h2M72 87h2M83 87h1M95 87h1M2 86h1M5 86h1M31 86h1M63 86h1M91 86h1M95 86h1M5 85h1M21 85h1M26 85h1M43 85h1M45 85h1M66 85h1M10 84h1M13 84h1M18 84h1M20 84h1M38 84h1M41 84h1M44 84h1M52 84h1M54 84h2M61 84h2M88 84h1M0 83h1M16 83h1M24 83h1M46 83h1M94 83h1M96 83h1M26 82h1M22 81h1M58 81h1M3 80h1M8 80h2M48 80h1M54 80h1M73 80h3M79 80h1M95 80h1M20 79h1M23 79h1M31 79h1M38 79h2M41 79h1M45 79h3M50 79h1M54 79h1M59 79h1M61 79h1M73 79h2M98 79h1M102 79h1M105 79h1M13 78h1M44 78h1M63 78h1M66 78h2M97 78h2M12 77h1M29 77h1M35 77h2M39 77h1M63 77h1M0 76h1M7 76h2M11 76h1M28 76h1M34 76h2M37 76h1M46 76h1M49 76h1M73 76h1M83 76h1M0 75h1M18 75h1M32 75h1M39 75h1M62 75h2M15 74h2M19 74h1M26 74h1M63 74h1M7 73h1M30 73h1M35 73h1M40 73h1M63 73h1M89 73h1M93 73h2M49 72h1M57 72h1M82 72h1M4 71h2M29 71h1M52 71h1M54 71h1M18 70h1M28 70h2M32 70h1M66 70h1M78 70h1M93 70h1M28 69h1M40 69h1M1 68h1M4 68h1M10 68h1M18 68h1M29 68h1M39 68h1M45 68h1M81 68h1M2 67h1M21 67h1M26 67h1M42 67h1M44 67h1M46 67h1M53 67h1M82 67h1M93 67h1M99 67h1M3 66h1M26 66h1M28 66h1M30 66h1M37 66h1M51 66h1M81 66h1M88 66h1M93 66h1M95 66h1M4 65h1M17 65h1M32 65h1M36 65h1M43 65h1M61 65h1M93 65h1M1 64h1M21 64h1M26 64h1M51 64h1M56 64h1M67 64h1M83 64h1M93 64h1M8 63h1M38 63h1M45 63h1M48 63h1M56 63h1M67 63h1M95 63h1M6 62h1M20 62h1M40 62h1M53 62h1M65 62h1M8 61h1M16 61h2M21 61h1M27 61h1M38 61h1M50 61h2M62 61h1M65 61h1M68 61h1M93 61h1M5 60h1M17 60h1M20 60h1M26 60h1M37 60h1M42 60h1M54 60h1M62 60h1M67 60h1M6 59h1M15 59h1M22 59h1M26 59h1M29 59h1M38 59h1M63 59h1M93 59h1M26 58h1M50 58h1M55 58h1M58 58h1M67 58h1M95 58h1M16 57h1M25 57h1M42 57h1M52 57h1M58 57h1M63 57h1M83 57h1M13 56h1M17 56h2M29 56h1M33 56h1M100 56h1M104 56h1M14 55h1M26 55h1M44 55h1M47 55h1M53 55h1M77 55h1M96 55h1M9 54h1M39 54h1M41 54h1M44 54h1M77 54h1M85 54h1M1 53h2M10 53h1M21 53h1M34 53h1M48 53h1M59 53h1M94 53h1M98 53h1M10 52h1M16 52h1M38 52h1M43 52h1M50 52h1M60 52h1M99 52h1M8 51h1M17 51h1M21 51h1M25 51h2M34 51h1M45 51h1M56 51h1M99 51h1M0 50h1M21 50h1M47 50h1M63 50h1M66 50h1M77 50h1M95 50h1M14 49h1M41 49h2M54 49h1M65 49h1M95 49h1M101 49h1M14 48h1M33 48h1M74 48h1M97 48h1M3 47h1M5 47h2M9 47h1M12 47h1M24 47h1M47 47h2M60 47h1M67 47h1M94 47h1M17 46h1M26 46h1M52 46h1M66 46h1M74 46h1M83 46h1M86 46h1M94 46h1M53 45h1M58 45h1M63 45h1M82 45h1M4 44h1M16 44h1M21 44h1M26 44h1M40 44h1M63 44h1M87 44h1M95 44h1M6 43h1M9 43h1M18 43h1M21 43h1M30 43h1M44 43h2M18 42h2M27 42h2M30 42h3M46 42h1M48 42h1M55 42h1M60 42h2M72 42h1M80 42h1M0 40h1M7 40h1M16 40h1M43 40h2M56 40h1M74 40h1M93 40h1M4 39h1M15 39h2M20 39h1M27 39h1M35 39h1M55 39h1M59 39h1M79 39h1M84 39h1M96 39h1M0 38h1M27 38h1M41 38h2M45 38h1M47 38h1M58 38h1M69 38h1M74 38h1M97 38h2M0 37h1M44 37h1M9 36h1M67 36h1M72 36h1M9 34h1M74 34h1M80 34h1M5 33h1M18 33h1M63 33h1M69 33h1M2 32h1M10 32h1M18 32h1M25 32h2M29 32h1M95 32h2M0 31h2M8 31h1M10 31h1M25 31h2M57 31h1M59 31h1M65 31h1M67 31h1M71 31h1M77 31h1M25 30h1M80 30h1M80 29h1M95 29h1M99 29h1M50 28h2M55 28h1M74 28h1M97 28h1M0 27h1M6 27h2M35 27h1M81 27h1M83 27h1M93 27h1M2 26h1M9 26h1M14 26h1M25 26h1M66 26h1M98 26h1M8 25h1M17 25h1M63 25h1M71 25h1M75 25h2M85 25h1M93 25h2M10 24h2M16 24h1M37 24h1M39 24h1M78 24h1M91 24h1M98 24h1M0 23h1M15 23h1M33 23h1M38 23h1M60 23h1M97 23h1M0 22h1M16 22h1M18 22h1M29 22h1M41 22h1M48 22h1M59 22h1M78 22h1M7 21h1M15 21h1M66 21h1M94 21h2M8 20h2M51 20h1M80 20h1M87 20h2M59 19h1M2 18h1M13 18h1M61 18h1M85 18h1M4 17h1M7 17h1M21 17h1M39 17h1M85 17h1M95 17h1M32 16h1M7 15h1M9 15h1M12 15h1M11 14h1M19 14h1M81 14h1M9 13h1M96 13h1M15 12h1M32 12h1M35 12h1M38 12h4M44 12h1M46 12h1M65 12h1M78 12h1M80 12h1M94 12h1M96 12h2M0 11h1M9 11h1M16 11h1M22 11h1M32 11h1M52 11h1M58 11h2M80 11h1M84 11h1M93 11h1M16 10h1M18 10h2M25 10h1M39 10h1M42 10h1M47 10h1M55 10h2M61 10h1M73 10h1M76 10h1M84 10h1M88 10h1M98 10h1M1 9h1M9 9h2M22 9h1M50 9h1M66 9h1M73 9h1M92 9h2M105 9h1M7 8h1M27 8h1M57 8h1M67 8h1M77 8h1M82 8h1M93 8h1M99 8h1M4 7h1M26 7h2M52 7h1M67 7h1M79 7h1M81 7h1M95 7h1M0 6h1M7 6h1M12 6h1M38 6h1M53 6h2M76 6h1M97 6h1M2 5h1M12 5h1M49 5h1M56 4h1M2 3h1M26 3h1M49 1h1M26 0h1M96 0h1"/>
<path stroke="#862781" d="M19 105h2M37 105h2M48 105h1M71 105h1M91 105h1M15 104h2M95 104h1M7 103h1M10 103h1M74 103h1M84 103h1M88 103h1M96 103h1M10 102h1M31 102h1M66 102h2M71 102h2M10 101h1M36 101h1M46 101h1M48 101h1M95 101h1M6 100h1M66 100h2M5 99h1M12 99h1M14 99h1M82 99h1M2 98h1M8 98h1M30 98h2M48 98h2M51 98h1M82 98h1M7 97h1M11 97h2M30 97h1M43 97h1M49 97h1M72 97h1M83 97h1M21 96h2M30 96h1M44 96h1M47 96h1M56 96h1M63 96h1M80 96h1M2 95h3M41 95h1M46 95h1M48 95h1M54 95h1M72 95h1M80 95h1M97 95h1M8 94h1M47 94h1M6 93h1M8 93h1M26 93h1M50 93h1M84 93h1M88 93h2M16 92h1M18 92h1M20 92h1M29 92h1M63 92h1M85 92h1M6 91h1M17 91h1M32 91h1M43 91h1M80 91h1M83 91h1M1 90h1M17 90h1M32 90h1M41 90h1M63 90h1M81 90h1M83 90h1M1 89h1M13 89h1M21 89h1M29 89h1M33 89h2M67 89h1M14 88h2M43 88h1M13 87h1M20 87h1M28 87h1M31 87h1M39 87h1M43 87h1M82 87h1M0 86h1M22 86h1M35 86h1M38 86h1M81 86h1M83 86h1M96 86h1M0 85h1M13 85h1M18 85h1M22 85h1M61 85h1M94 85h1M9 84h1M16 84h1M25 84h1M43 84h1M53 84h1M67 84h1M81 84h1M9 83h1M19 83h2M55 83h1M74 83h1M98 83h1M72 81h1M21 80h1M49 80h1M56 80h1M12 79h1M66 79h1M72 79h1M78 79h1M80 79h1M86 79h1M94 79h1M28 78h1M75 78h1M83 78h2M18 77h1M27 77h1M43 77h1M46 77h1M13 76h1M16 76h1M65 76h1M74 76h1M7 75h3M95 75h1M3 74h1M7 74h1M18 74h1M38 74h1M49 74h1M60 74h1M95 74h2M14 73h2M41 73h1M62 73h1M16 72h1M72 72h1M96 72h1M16 71h1M55 71h1M93 71h1M19 70h1M67 70h1M96 70h1M4 69h1M0 68h1M49 68h1M51 68h1M0 67h1M19 67h1M31 67h1M72 67h1M95 67h2M18 66h1M53 66h1M58 66h1M42 65h1M50 65h1M79 65h1M10 64h1M15 64h1M32 64h1M47 64h1M55 64h1M96 64h1M40 63h1M78 63h1M81 63h1M8 62h1M14 62h1M17 62h2M21 62h1M28 62h1M52 62h1M67 62h1M77 62h1M96 62h1M9 61h1M47 61h1M66 61h2M95 61h1M46 60h1M75 60h1M79 60h2M82 60h1M4 59h1M10 59h1M28 59h1M45 59h1M58 59h1M67 59h1M9 58h1M11 58h1M41 58h1M44 58h1M48 58h1M63 58h1M65 58h1M0 57h1M4 57h1M7 57h1M10 57h1M47 57h1M49 57h1M53 57h1M71 57h1M80 57h1M7 56h2M25 56h1M31 56h1M37 56h1M48 56h1M56 56h1M71 56h1M80 56h1M12 55h1M40 55h1M51 55h1M66 55h1M72 55h1M7 54h1M37 54h1M50 54h1M56 54h1M94 54h1M43 53h1M21 52h1M39 52h1M48 52h1M81 52h1M10 51h1M98 51h1M22 50h1M34 50h1M41 50h1M56 50h1M96 50h1M9 49h1M25 49h1M49 49h1M51 49h1M55 49h1M58 49h1M61 49h1M82 49h1M98 49h1M88 48h1M39 47h1M46 47h1M56 47h1M62 47h1M74 47h1M60 46h1M93 46h1M31 45h1M59 45h1M20 44h1M56 44h1M94 44h1M32 43h1M58 43h1M97 43h1M9 42h1M13 42h1M15 42h1M47 42h1M65 42h1M93 42h1M29 40h1M47 40h1M63 40h1M3 39h1M5 39h1M26 39h1M44 39h1M50 39h1M75 39h1M93 39h1M95 39h1M3 38h1M5 38h1M16 38h1M21 38h1M35 38h1M43 38h2M46 38h1M72 38h1M93 36h1M0 34h1M3 34h1M48 34h2M3 33h1M8 33h1M10 33h1M24 33h1M26 33h1M33 33h1M38 33h1M50 33h1M67 33h1M94 33h1M75 32h1M2 31h1M22 31h1M29 31h1M58 31h1M80 31h1M27 30h1M45 30h1M66 30h1M73 30h1M43 28h1M98 28h1M26 27h1M42 27h1M94 27h1M105 27h1M40 26h1M45 26h1M9 25h2M14 25h1M26 25h1M45 25h1M48 25h2M74 25h1M81 25h2M95 25h1M97 25h1M15 24h1M19 24h1M21 24h1M42 24h1M53 24h1M80 24h1M6 23h2M18 23h1M45 23h1M56 23h1M80 23h1M8 22h1M14 22h2M19 22h1M27 22h1M84 22h1M2 21h1M12 21h1M27 21h1M83 21h1M96 21h1M13 20h1M86 20h1M26 19h1M85 19h1M2 17h1M12 17h1M57 17h1M96 17h2M12 16h1M0 14h1M34 12h1M59 12h1M63 12h1M66 12h1M69 12h1M95 12h1M20 11h1M26 11h1M51 11h1M61 11h1M72 11h1M78 11h1M1 10h1M4 10h1M30 10h2M38 10h1M44 10h1M66 10h1M80 10h1M93 10h1M2 9h1M19 9h1M31 9h1M33 9h1M35 9h1M38 9h1M41 9h1M43 9h1M55 9h1M84 9h1M88 9h1M10 8h1M62 8h1M80 8h1M88 8h1M22 7h1M54 7h1M56 7h1M77 7h1M99 7h1M98 6h1M78 0h1"/>
<path stroke="#8e2a81" d="M13 105h1M15 105h1M41 105h2M47 105h1M63 105h1M95 105h1M97 105h1M6 104h1M11 104h1M34 104h1M36 104h1M38 104h1M58 104h1M6 103h1M25 103h1M40 103h1M48 103h1M59 103h1M94 103h1M9 102h1M44 102h1M94 102h1M96 102h1M102 102h1M47 101h1M74 101h1M87 101h1M10 100h1M32 100h1M57 100h1M86 100h1M1 99h2M9 99h1M13 99h1M81 99h1M9 98h1M17 98h1M44 98h1M58 98h1M80 98h1M10 97h1M3 96h1M6 96h2M14 96h1M18 96h2M29 96h1M35 96h1M50 96h1M54 96h1M77 96h1M88 96h1M100 96h1M5 95h1M8 95h1M40 95h1M43 95h1M47 95h1M49 95h1M51 95h1M1 94h1M14 94h1M48 94h2M52 94h1M15 93h1M83 93h1M0 92h1M6 92h1M26 92h1M30 92h1M81 92h1M94 92h1M9 91h1M11 91h1M15 91h1M18 91h1M28 91h3M81 91h2M0 90h1M12 90h1M14 90h1M18 90h1M35 90h1M43 90h1M19 89h1M63 89h1M91 89h1M93 89h1M7 88h1M19 88h1M66 88h1M9 87h1M14 87h2M27 87h1M32 87h1M44 87h1M59 87h1M61 87h1M79 87h1M96 87h1M9 86h1M16 86h2M28 86h1M33 86h1M42 85h1M25 83h1M37 83h1M97 83h1M41 81h1M2 80h1M22 80h1M42 80h1M80 80h1M96 80h1M13 79h1M27 79h1M58 79h1M76 79h2M18 78h1M26 78h1M62 78h1M74 78h1M14 77h1M19 77h1M59 77h1M97 77h1M9 76h1M14 76h1M31 76h1M38 76h1M82 76h1M97 76h1M13 75h2M58 75h1M29 74h1M5 73h1M18 73h1M61 73h1M81 73h1M19 72h1M34 72h1M1 71h1M33 71h1M9 70h1M15 70h1M1 69h1M22 68h1M40 68h2M54 68h1M82 68h1M87 68h1M100 68h1M1 67h1M29 67h1M39 67h1M80 67h1M94 67h1M38 66h1M42 66h1M94 66h1M2 65h1M10 65h1M37 65h1M41 65h1M46 65h2M49 65h1M52 65h1M65 65h1M77 65h1M0 64h1M24 64h1M37 64h1M40 64h1M49 64h1M78 64h2M81 64h1M85 64h1M95 64h1M0 63h1M20 63h1M25 63h1M39 63h1M75 63h1M94 63h1M10 62h1M15 62h1M49 62h1M84 62h1M3 61h1M7 61h1M18 61h1M94 61h1M49 60h1M56 60h1M72 60h1M40 59h1M55 59h1M65 59h1M81 59h1M0 58h1M4 58h1M10 58h1M40 58h1M81 58h1M93 58h1M2 57h1M11 57h1M65 57h1M10 56h2M40 56h2M43 56h1M45 56h1M50 56h1M66 56h1M72 56h1M82 56h1M9 55h1M49 55h1M10 54h1M95 54h1M11 53h1M40 53h1M56 53h1M99 53h1M63 52h1M9 51h1M37 51h1M80 51h1M46 50h1M45 49h1M52 49h1M80 49h1M96 49h1M5 48h1M80 48h1M1 47h1M7 47h1M26 47h1M30 47h1M2 46h1M18 46h1M28 46h1M61 45h1M95 45h1M18 44h1M32 44h1M60 44h1M96 44h1M27 43h1M0 42h1M16 42h1M53 42h1M40 40h1M46 40h1M48 40h1M17 39h1M49 39h1M83 38h1M96 38h1M45 33h1M49 33h1M95 33h1M97 33h1M4 31h1M27 31h1M96 31h1M42 30h1M26 29h1M9 28h1M26 28h1M40 28h1M78 28h2M41 27h1M77 27h1M18 26h1M41 26h1M77 26h1M7 25h1M25 25h1M38 25h1M54 25h1M56 25h2M6 24h1M13 24h2M32 24h1M41 24h1M46 24h2M97 24h1M14 23h1M29 23h1M37 23h1M49 23h1M12 22h1M67 22h1M87 22h1M43 21h1M41 20h1M5 19h1M4 18h1M37 18h1M83 18h1M9 17h1M90 17h1M88 15h1M96 15h1M16 14h1M16 12h1M47 12h1M2 11h2M13 11h1M38 11h2M42 11h1M44 11h1M96 11h1M0 10h1M41 10h1M51 10h1M60 10h1M72 10h1M3 9h1M18 9h1M25 9h1M56 9h1M61 9h1M67 9h1M74 9h1M90 9h1M94 9h1M97 9h1M0 8h1M22 8h1M28 8h2M72 8h1M81 8h1M96 8h1M98 8h1M97 7h1M52 6h1M9 5h1M37 5h1M3 3h1"/>
<path stroke="#962c80" d="M6 105h1M14 105h1M26 105h1M54 105h1M58 105h1M61 105h1M18 104h1M33 104h1M40 104h1M42 104h1M9 103h1M20 103h1M28 103h1M32 103h1M66 103h1M80 103h1M93 103h1M16 102h1M32 102h1M38 102h1M80 102h2M93 102h1M95 102h1M8 101h1M72 101h1M83 101h2M94 101h1M8 100h1M0 99h1M10 99h1M14 98h1M50 98h1M4 97h2M14 97h1M47 97h1M2 96h1M13 96h1M52 96h1M55 96h1M65 96h1M74 96h1M82 96h1M95 96h1M6 95h1M13 95h1M76 95h1M20 93h1M72 93h1M82 93h1M9 92h2M82 92h1M84 92h1M0 91h1M7 91h2M22 90h1M67 90h1M3 89h1M42 89h2M32 88h1M61 88h1M63 88h1M82 88h1M94 88h1M1 87h1M29 87h1M80 87h1M93 87h1M29 86h1M34 86h1M40 86h1M44 86h1M2 85h1M12 85h1M41 85h1M82 85h1M15 83h1M26 83h1M58 83h1M46 80h1M0 79h1M22 79h1M82 78h1M2 77h1M18 76h2M39 76h1M34 75h1M58 74h1M2 73h2M17 73h1M33 73h1M56 73h1M59 73h1M66 73h1M1 72h1M32 72h1M19 71h1M30 71h1M83 68h1M3 67h1M81 67h1M29 66h1M1 65h1M19 65h1M81 65h1M20 64h1M54 64h1M94 64h1M1 63h1M16 63h1M44 63h1M49 63h1M16 62h1M51 62h1M81 62h1M19 61h1M42 61h1M53 61h1M55 61h1M52 60h1M97 60h1M25 59h1M47 59h1M66 59h1M8 58h1M46 58h1M49 58h1M52 58h1M90 58h1M67 57h1M42 56h1M47 56h1M52 56h1M95 56h1M7 55h1M52 55h1M94 55h1M43 54h1M53 54h1M9 53h1M45 53h1M47 53h1M49 53h2M54 53h1M44 52h1M51 52h1M59 52h1M98 52h1M0 51h1M41 51h1M52 51h1M59 51h1M9 50h1M44 50h1M32 49h1M0 47h1M22 47h1M31 47h1M61 47h1M32 46h1M53 46h2M68 46h1M0 44h1M17 44h1M58 44h1M17 42h1M94 42h1M9 40h1M2 39h1M32 39h1M46 39h1M94 39h1M15 38h1M48 38h1M75 38h1M93 38h1M59 37h1M4 33h1M12 33h1M74 33h1M9 31h1M72 31h1M79 31h1M67 30h1M10 29h1M97 29h1M80 28h1M74 26h1M80 26h1M2 25h2M18 25h1M77 25h1M79 25h1M3 24h1M38 24h1M40 24h1M43 24h1M9 23h1M12 23h2M17 23h1M20 23h1M27 23h1M4 22h1M37 22h1M95 22h1M4 21h1M13 21h1M47 15h1M2 12h2M18 12h1M67 12h1M4 11h1M17 11h1M41 11h1M50 11h1M63 11h1M66 11h1M3 10h1M9 10h1M49 10h1M83 10h1M97 10h1M98 9h1M45 8h1M76 8h1M95 8h1M53 7h1M96 7h1"/>
<path stroke="#a02f7f" d="M9 105h1M49 105h1M66 105h1M77 105h1M96 105h1M17 104h1M33 103h1M39 103h1M41 103h1M41 102h1M15 101h2M9 100h1M41 100h1M30 99h1M46 98h1M51 97h1M84 97h1M0 96h1M5 96h1M72 96h1M11 95h1M10 94h1M29 93h1M28 92h1M63 91h1M4 90h1M4 89h1M18 89h1M84 89h1M1 88h1M33 88h1M42 88h1M16 87h1M33 87h2M81 87h1M20 86h1M42 86h2M19 85h1M22 84h1M26 84h1M21 83h1M21 79h1M37 79h1M67 79h1M82 79h2M97 79h1M13 77h1M40 77h1M12 76h1M59 76h1M6 75h1M60 73h1M2 72h1M17 72h2M18 71h1M26 68h1M96 68h1M41 67h1M2 66h1M41 66h1M28 65h1M45 65h1M96 65h1M2 64h2M5 64h1M38 64h2M42 64h1M80 64h1M82 64h1M17 63h1M19 63h1M41 63h1M43 63h1M83 63h1M19 62h1M42 62h1M95 62h1M45 61h1M63 61h1M40 60h1M44 60h1M51 60h1M94 60h1M7 59h1M49 59h1M52 59h1M56 59h1M72 57h1M0 56h1M46 56h1M53 56h1M67 55h1M8 54h1M45 54h1M52 54h1M46 53h1M51 53h1M93 53h1M49 52h1M55 51h1M54 50h1M46 49h1M84 47h1M29 46h1M32 45h1M14 42h1M44 42h1M0 39h1M97 39h1M26 38h1M50 38h1M9 33h1M48 33h1M75 33h2M72 30h1M72 29h1M0 28h1M80 27h1M41 25h1M78 25h1M18 24h1M82 24h1M26 23h1M41 23h1M81 23h1M26 22h1M42 22h1M8 21h1M16 21h1M58 21h1M52 12h1M45 11h1M43 10h1M0 9h1M37 9h1M40 9h1M26 8h1M66 8h1"/>
<path stroke="#a8327d" d="M7 105h1M12 105h1M33 105h1M35 105h1M75 105h2M12 104h1M11 103h1M13 103h2M22 103h1M42 103h1M67 103h1M95 103h1M13 102h1M19 102h1M37 102h1M9 101h1M13 101h1M42 101h2M81 101h1M82 100h1M0 98h1M45 98h1M4 96h1M48 96h1M83 96h2M12 95h1M2 94h1M0 93h2M10 93h1M2 92h3M15 92h1M2 91h1M13 90h1M82 89h1M40 87h1M3 86h1M2 83h1M75 79h1M34 77h1M32 76h1M33 74h1M29 73h1M0 72h1M31 72h1M28 71h1M0 70h1M3 68h1M94 68h1M40 66h1M18 65h1M39 65h1M80 65h1M94 65h1M43 64h1M2 63h1M4 63h1M4 62h1M41 62h1M80 61h1M7 60h1M51 59h1M97 59h1M9 57h1M51 56h1M46 54h1M49 54h1M68 39h1M2 38h1M66 37h1M72 34h1M71 33h1M73 33h1M72 32h1M95 31h1M0 30h1M26 30h1M0 29h1M40 25h1M44 25h1M4 24h1M5 23h1M16 23h1M9 22h1M9 21h1M37 11h1M40 11h1M2 10h1M74 10h1M46 8h1"/>
<path stroke="#b2357b" d="M11 105h1M34 105h1M59 105h1M5 103h1M37 103h1M43 103h1M33 102h1M43 102h1M17 101h1M41 101h1M2 100h1M42 96h1M46 96h1M49 96h1M0 94h1M14 93h1M12 91h1M16 90h1M15 89h1M4 88h1M34 88h1M58 88h1M41 87h2M94 87h1M96 79h1M33 75h1M32 74h1M31 73h1M3 72h1M30 72h1M0 71h1M17 71h1M2 68h1M38 68h1M37 67h1M40 67h1M38 65h1M51 65h1M4 64h1M18 64h1M9 63h1M18 63h1M2 62h2M52 61h1M9 59h1M48 59h1M46 57h1M9 56h1M40 54h1M44 53h1M53 53h1M52 52h1M17 47h1M0 46h1M88 42h1M67 39h1M66 38h1M63 17h1M18 11h1M96 10h1M26 9h1M95 9h1"/>
<path stroke="#ba3878" d="M36 105h1M5 104h1M35 104h1M12 103h1M6 102h1M12 102h1M15 102h1M34 102h1M36 102h1M7 101h1M18 101h2M1 100h1M3 99h1M4 98h1M12 94h1M2 93h2M11 93h1M13 93h1M12 92h1M3 90h1M40 89h1M18 88h1M4 87h1M17 87h1M19 87h1M4 86h1M18 86h1M41 86h1M3 71h1M1 70h1M0 69h1M3 69h1M16 65h1M19 64h1M54 52h1M53 51h1"/>
<path stroke="#c43c75" d="M16 105h1M32 105h1M4 104h1M15 103h2M35 102h1M42 102h1M1 101h1M35 101h1M13 97h1M43 96h1M53 96h1M8 92h1M2 90h1M42 90h1M0 89h1M2 89h1M17 89h1M16 88h1M41 88h1M0 73h1M3 70h2M17 64h1M3 63h1M15 63h1M80 63h1M9 62h1M9 52h1M42 25h1"/>
<path stroke="#cc3f71" d="M17 105h2M18 103h1M18 102h1M9 97h1M8 96h1M14 92h1M13 91h1M0 88h1M0 87h1M2 87h2M75 31h1M74 30h1"/>
<path stroke="#d5446d" d="M4 105h2M34 103h1M0 101h1M0 100h1M11 96h1M9 94h1M41 89h1M26 80h1M25 79h1M2 71h1M16 64h1"/>
<path stroke="#dc4869" d="M17 103h1M17 102h1M5 101h2M4 100h1M4 99h1M12 96h1M9 93h1M2 88h2"/>
<path stroke="#e34e65" d="M4 103h1M35 103h1M2 101h1M10 96h1M9 95h1M2 70h1"/>
<path stroke="#ea5661" d="M36 103h1M2 69h1"/>
<path stroke="#ef5d5e" d="M5 102h1M3 100h1"/>
<path stroke="#f4675c" d="M1 105h1M0 104h1M3 104h1M1 102h1"/>
<path stroke="#f97b5d" d="M2 105h1M2 104h1M0 103h2M4 102h1M3 101h1"/>
<path stroke="#fb8560" d="M3 105h1M0 102h1"/>
<path stroke="#fd9a6a" d="M3 103h1M2 102h1"/>
<path stroke="#fff0de" d="M0 105h1M1 104h1M2 103h1M3 102h1M4 101h1M5 100h1M6 99h1M7 98h1M8 97h1M9 96h1M10 95h1M11 94h1M12 93h1M13 92h1M14 91h1M15 90h1M16 89h1M17 88h1M18 87h1M19 86h1M20 85h1M21 84h1M22 83h1M23 82h1M24 81h1M25 80h1M26 79h1M27 78h1M28 77h1M29 76h1M30 75h1M31 74h1M32 73h1M33 72h1M34 71h1M35 70h1M36 69h1M37 68h1M38 67h1M39 66h1M40 65h1M41 64h1M42 63h1M43 62h1M44 61h1M45 60h1M46 59h1M47 58h1M48 57h1M49 56h1M50 55h1M51 54h1M52 53h1M53 52h1M54 51h1M55 50h1M56 49h1M57 48h1M58 47h1M59 46h1M60 45h1M61 44h1M62 43h1M63 42h1M64 41h1M65 40h1M66 39h1M67 38h1M68 37h1M69 36h1M70 35h1M71 34h1M72 33h1M73 32h1M74 31h1M75 30h1M76 29h1M77 28h1M78 27h1M79 26h1M80 25h1M81 24h1M82 23h1M83 22h1M84 21h1M85 20h1M86 19h1M87 18h1M88 17h1M89 16h1M90 15h1M91 14h1M92 13h1M93 12h1M94 11h1M95 10h1M96 9h1M97 8h1M98 7h1M99 6h1M100 5h1M101 4h1M102 3h1M103 2h1M104 1h1M105 0h1"/>
</g></svg>
<div style="position:absolute;left:52.60px;top:87.10px;width:429.40px;height:428.90px;border:0.8px solid #000;box-sizing:border-box"></div>
<div class="tk" style="left:54.62px;top:516.00px;width:0.8px;height:3.5px"></div>
<div class="tk" style="left:49.10px;top:513.18px;width:3.5px;height:0.8px"></div>
<div class="t xt" style="left:35.02px;top:523.20px;width:40px;text-align:center;font-size:11px">0</div>
<div class="t yt" style="left:5.60px;top:509.68px;width:40px;text-align:right;font-size:11px">0</div>
<div class="tk" style="left:135.49px;top:516.00px;width:0.8px;height:3.5px"></div>
<div class="tk" style="left:49.10px;top:432.31px;width:3.5px;height:0.8px"></div>
<div class="t xt" style="left:115.89px;top:523.20px;width:40px;text-align:center;font-size:11px">20</div>
<div class="t yt" style="left:5.60px;top:428.81px;width:40px;text-align:right;font-size:11px">20</div>
<div class="tk" style="left:216.36px;top:516.00px;width:0.8px;height:3.5px"></div>
<div class="tk" style="left:49.10px;top:351.44px;width:3.5px;height:0.8px"></div>
<div class="t xt" style="left:196.76px;top:523.20px;width:40px;text-align:center;font-size:11px">40</div>
<div class="t yt" style="left:5.60px;top:347.94px;width:40px;text-align:right;font-size:11px">40</div>
<div class="tk" style="left:297.23px;top:516.00px;width:0.8px;height:3.5px"></div>
<div class="tk" style="left:49.10px;top:270.57px;width:3.5px;height:0.8px"></div>
<div class="t xt" style="left:277.63px;top:523.20px;width:40px;text-align:center;font-size:11px">60</div>
<div class="t yt" style="left:5.60px;top:267.07px;width:40px;text-align:right;font-size:11px">60</div>
<div class="tk" style="left:378.09px;top:516.00px;width:0.8px;height:3.5px"></div>
<div class="tk" style="left:49.10px;top:189.71px;width:3.5px;height:0.8px"></div>
<div class="t xt" style="left:358.49px;top:523.20px;width:40px;text-align:center;font-size:11px">80</div>
<div class="t yt" style="left:5.60px;top:186.21px;width:40px;text-align:right;font-size:11px">80</div>
<div class="tk" style="left:458.96px;top:516.00px;width:0.8px;height:3.5px"></div>
<div class="tk" style="left:49.10px;top:108.84px;width:3.5px;height:0.8px"></div>
<div class="t xt" style="left:439.36px;top:523.20px;width:40px;text-align:center;font-size:11px">100</div>
<div class="t yt" style="left:5.60px;top:105.34px;width:40px;text-align:right;font-size:11px">100</div>
<div class="t" style="left:267.10px;top:69.90px;width:300px;margin-left:-150px;text-align:center;font-size:13px;transform:scaleX(1.1)">Self-Similarity Matrix (semantic order)</div>
<div class="t" style="left:267.30px;top:537.20px;width:200px;margin-left:-100px;text-align:center;font-size:11px;transform:scaleX(1.035)">Track index</div>
<div class="t" style="left:15.60px;top:296.25px;width:200px;margin-left:-100px;text-align:center;font-size:11px;transform:rotate(-90deg) scaleX(1.035);transform-origin:50% 50%">Track index</div>
<div style="position:absolute;left:508.00px;top:15.50px;width:29.30px;height:572.50px;background:linear-gradient(to bottom,#fcfdbf 0.00%,#fcf6b8 1.56%,#fceeb0 3.12%,#fde7a9 4.69%,#fde0a1 6.25%,#fed89a 7.81%,#fed395 9.38%,#feca8d 10.94%,#fec287 12.50%,#febb81 14.06%,#feb47b 15.62%,#feac76 17.19%,#fea571 18.75%,#fe9d6c 20.31%,#fd9668 21.88%,#fc8e64 23.44%,#fb8761 25.00%,#fa7f5e 26.56%,#f9785d 28.12%,#f7705c 29.69%,#f4695c 31.25%,#f2625d 32.81%,#ee5b5e 34.38%,#ea5661 35.94%,#e75263 37.50%,#e04c67 39.06%,#db476a 40.62%,#d6456c 42.19%,#cf4070 43.75%,#c83e73 45.31%,#c23b75 46.88%,#bc3978 48.44%,#b5367a 50.00%,#ae347b 51.56%,#a8327d 53.12%,#a1307e 54.69%,#9b2e7f 56.25%,#942c80 57.81%,#8e2a81 59.38%,#882781 60.94%,#812581 62.50%,#7b2382 64.06%,#752181 65.62%,#6e1e81 67.19%,#681c81 68.75%,#621980 70.31%,#5c167f 71.88%,#56147d 73.44%,#4f127b 75.00%,#491078 76.56%,#420f75 78.12%,#3b0f70 79.69%,#341069 81.25%,#2d1161 82.81%,#271258 84.38%,#21114e 85.94%,#1c1044 87.50%,#160f3b 89.06%,#120d31 90.62%,#0d0a29 92.19%,#090720 93.75%,#060518 95.31%,#03030f 96.88%,#010108 98.44%,#000004 100.00%)"></div>
<div style="position:absolute;left:507.60px;top:15.10px;width:30.10px;height:573.30px;border:0.8px solid #000;box-sizing:border-box"></div>
<div class="tk" style="left:537.70px;top:524.44px;width:3.5px;height:0.8px"></div>
<div class="t" style="left:544.60px;top:520.54px;font-size:11px">0.0</div>
<div class="tk" style="left:537.70px;top:422.57px;width:3.5px;height:0.8px"></div>
<div class="t" style="left:544.60px;top:418.67px;font-size:11px">0.2</div>
<div class="tk" style="left:537.70px;top:320.70px;width:3.5px;height:0.8px"></div>
<div class="t" style="left:544.60px;top:316.80px;font-size:11px">0.4</div>
<div class="tk" style="left:537.70px;top:218.84px;width:3.5px;height:0.8px"></div>
<div class="t" style="left:544.60px;top:214.94px;font-size:11px">0.6</div>
<div class="tk" style="left:537.70px;top:116.97px;width:3.5px;height:0.8px"></div>
<div class="t" style="left:544.60px;top:113.07px;font-size:11px">0.8</div>
<div class="tk" style="left:537.70px;top:15.10px;width:3.5px;height:0.8px"></div>
<div class="t" style="left:544.60px;top:11.20px;font-size:11px">1.0</div>
<div class="t" style="left:568.20px;top:296.25px;width:200px;margin-left:-100px;text-align:center;font-size:11px;transform:rotate(-90deg) scaleX(1.07)">Cosine similarity</div>
</body></html>
